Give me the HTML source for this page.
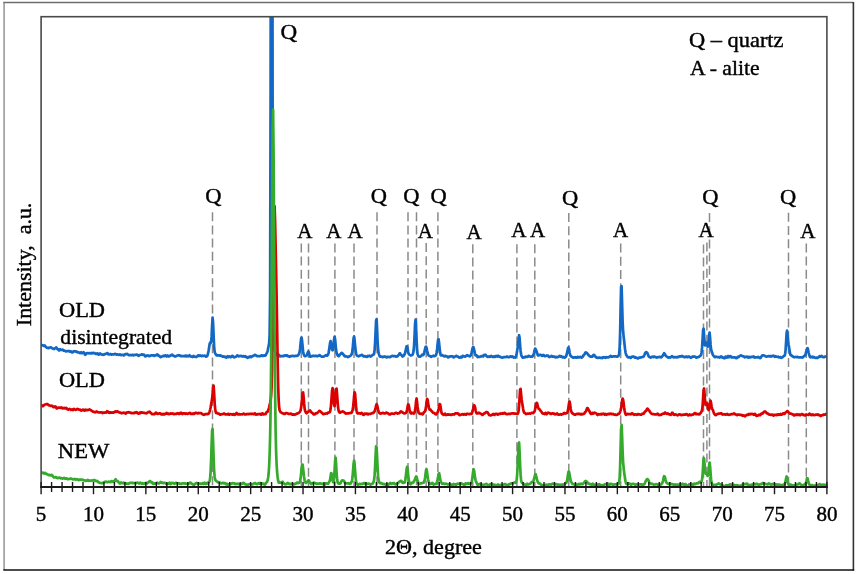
<!DOCTYPE html>
<html><head><meta charset="utf-8"><title>XRD patterns</title>
<style>
html,body{margin:0;padding:0;background:#fff;}
body{width:858px;height:574px;overflow:hidden;font-family:"Liberation Serif",serif;}
svg{display:block;filter:blur(0.35px);}
</style></head><body>
<svg width="858" height="574" viewBox="0 0 858 574">
<rect x="0" y="0" width="858" height="574" fill="#fff"/>
<line x1="4.1" y1="2.5" x2="4.1" y2="570" stroke="#9a9a9a" stroke-width="1.6"/>
<line x1="3.3" y1="2.5" x2="853.4" y2="2.5" stroke="#6e6e6e" stroke-width="1.4"/>
<line x1="853.4" y1="2" x2="853.4" y2="570.6" stroke="#333" stroke-width="1.6"/>
<line x1="3.3" y1="570.0" x2="854.2" y2="570.0" stroke="#111" stroke-width="1.7"/>
<line x1="212.5" y1="212.2" x2="212.5" y2="486" stroke="#8a8a8a" stroke-width="1.5" stroke-dasharray="9 4.2"/>
<line x1="377.0" y1="212.2" x2="377.0" y2="486" stroke="#8a8a8a" stroke-width="1.5" stroke-dasharray="9 4.2"/>
<line x1="408.0" y1="212.2" x2="408.0" y2="486" stroke="#8a8a8a" stroke-width="1.5" stroke-dasharray="9 4.2"/>
<line x1="416.5" y1="212.2" x2="416.5" y2="486" stroke="#8a8a8a" stroke-width="1.5" stroke-dasharray="9 4.2"/>
<line x1="437.9" y1="212.2" x2="437.9" y2="486" stroke="#8a8a8a" stroke-width="1.5" stroke-dasharray="9 4.2"/>
<line x1="568.8" y1="213.0" x2="568.8" y2="486" stroke="#8a8a8a" stroke-width="1.5" stroke-dasharray="9 4.2"/>
<line x1="709.5" y1="213.0" x2="709.5" y2="486" stroke="#8a8a8a" stroke-width="1.5" stroke-dasharray="9 4.2"/>
<line x1="788.5" y1="212.8" x2="788.5" y2="486" stroke="#8a8a8a" stroke-width="1.5" stroke-dasharray="9 4.2"/>
<line x1="301.3" y1="243.4" x2="301.3" y2="486" stroke="#8a8a8a" stroke-width="1.5" stroke-dasharray="9 4.2"/>
<line x1="308.5" y1="243.4" x2="308.5" y2="486" stroke="#8a8a8a" stroke-width="1.5" stroke-dasharray="9 4.2"/>
<line x1="334.9" y1="243.4" x2="334.9" y2="486" stroke="#8a8a8a" stroke-width="1.5" stroke-dasharray="9 4.2"/>
<line x1="354.0" y1="243.4" x2="354.0" y2="486" stroke="#8a8a8a" stroke-width="1.5" stroke-dasharray="9 4.2"/>
<line x1="426.2" y1="243.0" x2="426.2" y2="486" stroke="#8a8a8a" stroke-width="1.5" stroke-dasharray="9 4.2"/>
<line x1="472.8" y1="244.2" x2="472.8" y2="486" stroke="#8a8a8a" stroke-width="1.5" stroke-dasharray="9 4.2"/>
<line x1="516.9" y1="244.2" x2="516.9" y2="486" stroke="#8a8a8a" stroke-width="1.5" stroke-dasharray="9 4.2"/>
<line x1="534.8" y1="244.2" x2="534.8" y2="486" stroke="#8a8a8a" stroke-width="1.5" stroke-dasharray="9 4.2"/>
<line x1="620.7" y1="243.6" x2="620.7" y2="486" stroke="#8a8a8a" stroke-width="1.5" stroke-dasharray="9 4.2"/>
<line x1="703.5" y1="244.4" x2="703.5" y2="486" stroke="#8a8a8a" stroke-width="1.5" stroke-dasharray="9 4.2"/>
<line x1="706.9" y1="242.4" x2="706.9" y2="486" stroke="#8a8a8a" stroke-width="1.5" stroke-dasharray="9 4.2"/>
<line x1="806.3" y1="243.4" x2="806.3" y2="486" stroke="#8a8a8a" stroke-width="1.5" stroke-dasharray="9 4.2"/>
<clipPath id="pc"><rect x="41.1" y="16.7" width="785.8" height="480.3"/></clipPath>
<g clip-path="url(#pc)">
<path d="M41.10,344.98L41.60,345.04L42.10,345.09L42.60,345.25L43.10,345.50L43.60,345.78L44.10,345.55L44.60,345.46L45.10,346.02L45.60,346.77L46.10,347.02L46.60,347.47L47.10,347.73L47.60,347.75L48.10,348.04L48.60,348.09L49.10,347.80L49.60,347.56L50.10,347.47L50.60,347.34L51.10,347.54L51.60,347.85L52.10,348.29L52.60,348.46L53.10,348.52L53.60,348.94L54.10,349.06L54.60,348.60L55.10,348.21L55.60,347.95L56.10,347.41L56.60,347.79L57.10,348.68L57.60,349.18L58.10,349.17L58.60,349.89L59.10,350.51L59.60,350.10L60.10,349.27L60.60,349.64L61.10,349.90L61.60,349.94L62.10,349.70L62.60,349.59L63.10,350.00L63.60,350.65L64.10,350.73L64.60,350.61L65.10,350.92L65.60,351.30L66.10,351.36L66.60,351.20L67.10,351.05L67.60,351.09L68.10,351.24L68.60,351.20L69.10,350.99L69.60,351.24L70.10,351.71L70.60,351.43L71.10,351.35L71.60,351.92L72.10,352.52L72.60,352.44L73.10,351.79L73.60,351.35L74.10,351.27L74.60,351.21L75.10,351.37L75.60,351.57L76.10,351.42L76.60,351.60L77.10,352.07L77.60,352.39L78.10,352.42L78.60,352.45L79.10,352.51L79.60,352.80L80.10,353.12L80.60,352.72L81.10,352.27L81.60,352.93L82.10,353.15L82.60,352.97L83.10,352.74L83.60,352.28L84.10,352.81L84.60,354.04L85.10,354.74L85.60,354.46L86.10,353.58L86.60,353.34L87.10,353.28L87.60,353.09L88.10,353.39L88.60,353.21L89.10,353.11L89.60,353.04L90.10,353.31L90.60,353.50L91.10,353.44L91.60,352.98L92.10,353.14L92.60,353.35L93.10,352.88L93.60,352.99L94.10,353.16L94.60,353.06L95.10,353.33L95.60,353.91L96.10,354.03L96.60,353.83L97.10,353.54L97.60,353.37L98.10,353.93L98.60,354.63L99.10,354.44L99.60,353.64L100.10,353.39L100.60,353.91L101.10,354.36L101.60,354.37L102.10,354.47L102.60,354.74L103.10,354.86L103.60,354.77L104.10,354.56L104.60,354.04L105.10,354.13L105.60,353.98L106.10,353.59L106.60,353.60L107.10,353.01L107.60,353.18L108.10,354.25L108.60,354.38L109.10,354.22L109.60,354.47L110.10,354.37L110.60,353.99L111.10,354.36L111.60,354.68L112.10,354.40L112.60,354.23L113.10,354.26L113.60,354.42L114.10,354.22L114.60,354.00L115.10,353.87L115.60,354.05L116.10,354.49L116.60,354.64L117.10,354.38L117.60,354.27L118.10,354.61L118.60,354.87L119.10,354.87L119.60,354.42L120.10,354.36L120.60,354.84L121.10,355.22L121.60,355.05L122.10,354.88L122.60,354.77L123.10,355.00L123.60,355.34L124.10,355.30L124.60,354.79L125.10,354.11L125.60,354.18L126.10,354.14L126.60,354.11L127.10,353.83L127.60,354.20L128.10,354.64L128.60,355.14L129.10,355.22L129.60,355.19L130.10,355.04L130.60,355.20L131.10,355.06L131.60,355.20L132.10,354.84L132.60,354.81L133.10,355.30L133.60,355.30L134.10,355.09L134.60,354.77L135.10,354.81L135.60,354.82L136.10,354.69L136.60,354.61L137.10,354.49L137.60,355.16L138.10,355.61L138.60,355.90L139.10,355.53L139.60,355.10L140.10,354.98L140.60,355.02L141.10,354.84L141.60,354.39L142.10,354.29L142.60,354.74L143.10,354.87L143.60,354.49L144.10,354.68L144.60,355.39L145.10,356.24L145.60,356.39L146.10,356.12L146.60,355.71L147.10,355.43L147.60,355.71L148.10,355.58L148.60,355.69L149.10,356.07L149.60,355.76L150.10,355.94L150.60,355.69L151.10,355.27L151.60,355.27L152.10,355.24L152.60,355.33L153.10,355.18L153.60,355.37L154.10,355.96L154.60,355.60L155.10,355.43L155.60,355.33L156.10,355.20L156.60,354.79L157.10,354.46L157.60,354.50L158.10,355.54L158.60,355.83L159.10,355.65L159.60,356.12L160.10,356.70L160.60,357.13L161.10,356.75L161.60,356.55L162.10,356.46L162.60,356.26L163.10,355.87L163.60,355.73L164.10,356.03L164.60,356.03L165.10,355.45L165.60,355.38L166.10,356.01L166.60,356.46L167.10,355.91L167.60,355.47L168.10,355.95L168.60,356.31L169.10,356.36L169.60,356.06L170.10,355.88L170.60,355.36L171.10,355.29L171.60,355.03L172.10,354.68L172.60,355.06L173.10,355.76L173.60,355.90L174.10,355.81L174.60,356.20L175.10,356.45L175.60,356.41L176.10,356.20L176.60,355.91L177.10,355.55L177.60,355.51L178.10,355.42L178.60,355.17L179.10,355.25L179.60,355.54L180.10,355.88L180.60,356.07L181.10,355.84L181.60,355.98L182.10,356.23L182.60,356.20L183.10,356.15L183.60,356.10L184.10,356.21L184.60,355.85L185.10,355.69L185.60,356.28L186.10,356.39L186.60,355.68L187.10,355.73L187.60,356.04L188.10,356.30L188.60,356.21L189.10,355.55L189.60,355.26L190.10,355.94L190.60,356.51L191.10,356.59L191.60,356.49L192.10,356.65L192.60,357.00L193.10,356.24L193.60,355.95L194.10,356.51L194.60,356.69L195.10,356.71L195.60,356.79L196.10,357.02L196.60,356.75L197.10,356.19L197.60,355.99L198.10,355.43L198.60,355.37L199.10,355.96L199.60,355.68L200.10,355.28L200.60,355.66L201.10,355.93L201.60,356.16L202.10,356.02L202.60,355.71L203.10,355.76L203.60,355.96L204.10,355.75L204.60,355.72L205.10,355.74L205.60,356.24L206.10,356.66L206.60,356.46L207.10,356.08L207.60,355.04L208.10,353.14L208.60,350.67L209.10,347.49L209.60,344.26L210.10,342.66L210.60,343.10L211.10,342.02L211.60,336.17L212.10,325.48L212.60,317.66L213.10,322.73L213.60,335.34L214.10,346.02L214.60,351.50L215.10,353.16L215.60,353.90L216.10,354.68L216.60,355.34L217.10,355.45L217.60,355.53L218.10,355.29L218.60,355.26L219.10,355.58L219.60,355.74L220.10,355.33L220.60,355.54L221.10,355.93L221.60,356.06L222.10,356.24L222.60,356.56L223.10,356.53L223.60,356.43L224.10,356.65L224.60,356.54L225.10,356.73L225.60,357.38L226.10,357.70L226.60,357.32L227.10,356.67L227.60,356.20L228.10,356.42L228.60,357.02L229.10,356.77L229.60,356.48L230.10,356.97L230.60,357.10L231.10,357.02L231.60,356.47L232.10,355.78L232.60,356.03L233.10,356.55L233.60,357.02L234.10,357.39L234.60,357.10L235.10,356.98L235.60,356.92L236.10,356.62L236.60,356.08L237.10,355.56L237.60,355.40L238.10,356.00L238.60,356.28L239.10,356.24L239.60,356.06L240.10,356.09L240.60,355.91L241.10,355.91L241.60,356.29L242.10,356.47L242.60,356.35L243.10,356.06L243.60,356.10L244.10,356.60L244.60,356.64L245.10,356.21L245.60,356.27L246.10,356.93L246.60,357.27L247.10,357.52L247.60,357.84L248.10,357.09L248.60,356.96L249.10,357.34L249.60,357.17L250.10,356.43L250.60,356.55L251.10,357.10L251.60,356.99L252.10,356.39L252.60,356.04L253.10,355.87L253.60,355.86L254.10,355.36L254.60,354.85L255.10,354.93L255.60,355.21L256.10,355.27L256.60,355.84L257.10,356.18L257.60,356.15L258.10,356.15L258.60,356.24L259.10,356.20L259.60,356.27L260.10,356.25L260.60,356.02L261.10,355.50L261.60,355.31L262.10,355.50L262.60,355.99L263.10,355.98L263.60,355.52L264.10,355.30L264.60,355.48L265.10,355.66L265.60,355.20L266.10,354.41L266.60,353.46L267.10,352.52L267.60,351.08L268.10,348.48L268.60,345.92L269.10,343.32L269.60,336.68L270.10,295.51L270.60,91.99L271.10,-368.26L271.60,-665.84L272.10,-366.74L272.60,95.26L273.10,300.38L273.60,341.17L274.10,347.12L274.60,349.74L275.10,351.53L275.60,352.64L276.10,353.67L276.60,354.83L277.10,355.17L277.60,354.78L278.10,354.42L278.60,354.66L279.10,355.22L279.60,355.95L280.10,356.40L280.60,356.20L281.10,356.17L281.60,356.14L282.10,356.09L282.60,355.97L283.10,356.17L283.60,356.21L284.10,355.75L284.60,355.50L285.10,355.39L285.60,355.39L286.10,355.76L286.60,355.42L287.10,355.41L287.60,355.81L288.10,356.36L288.60,356.21L289.10,356.34L289.60,356.79L290.10,356.42L290.60,356.05L291.10,356.15L291.60,356.11L292.10,355.82L292.60,355.76L293.10,355.85L293.60,356.09L294.10,356.22L294.60,356.14L295.10,355.97L295.60,355.95L296.10,355.86L296.60,355.94L297.10,355.68L297.60,355.44L298.10,355.33L298.60,354.49L299.10,353.52L299.60,351.83L300.10,348.48L300.60,343.48L301.10,338.83L301.60,337.57L302.10,340.98L302.60,346.33L303.10,351.38L303.60,354.02L304.10,355.08L304.60,356.01L305.10,356.25L305.60,356.08L306.10,355.60L306.60,355.48L307.10,354.66L307.60,352.98L308.10,351.66L308.60,351.66L309.10,353.16L309.60,355.24L310.10,356.47L310.60,356.75L311.10,356.40L311.60,356.21L312.10,356.18L312.60,355.92L313.10,355.72L313.60,355.84L314.10,356.07L314.60,356.00L315.10,355.96L315.60,355.91L316.10,355.90L316.60,356.06L317.10,356.31L317.60,356.19L318.10,356.02L318.60,355.66L319.10,355.50L319.60,355.24L320.10,355.58L320.60,356.07L321.10,356.34L321.60,356.57L322.10,356.64L322.60,356.76L323.10,356.73L323.60,356.67L324.10,356.35L324.60,355.91L325.10,355.75L325.60,355.55L326.10,355.22L326.60,355.47L327.10,355.66L327.60,355.19L328.10,354.48L328.60,352.76L329.10,349.70L329.60,346.27L330.10,342.71L330.60,341.01L331.10,343.37L331.60,346.88L332.10,349.74L332.60,350.26L333.10,348.75L333.60,344.39L334.10,338.95L334.60,336.53L335.10,339.18L335.60,344.74L336.10,350.01L336.60,352.94L337.10,354.11L337.60,355.27L338.10,356.02L338.60,356.20L339.10,355.93L339.60,354.88L340.10,354.41L340.60,354.03L341.10,353.48L341.60,352.83L342.10,352.95L342.60,353.76L343.10,354.32L343.60,354.65L344.10,355.55L344.60,356.23L345.10,356.34L345.60,356.05L346.10,356.47L346.60,356.50L347.10,356.58L347.60,357.00L348.10,357.12L348.60,356.65L349.10,356.42L349.60,356.40L350.10,355.89L350.60,355.58L351.10,355.13L351.60,354.27L352.10,352.83L352.60,349.51L353.10,343.69L353.60,338.01L354.10,336.31L354.60,340.10L355.10,345.67L355.60,350.29L356.10,353.53L356.60,355.23L357.10,355.65L357.60,355.89L358.10,356.01L358.60,356.27L359.10,356.02L359.60,355.73L360.10,355.52L360.60,355.48L361.10,355.09L361.60,354.79L362.10,355.06L362.60,355.34L363.10,356.09L363.60,356.37L364.10,356.35L364.60,356.25L365.10,356.01L365.60,356.61L366.10,356.64L366.60,356.89L367.10,356.91L367.60,355.94L368.10,355.79L368.60,356.16L369.10,356.10L369.60,355.70L370.10,356.03L370.60,356.60L371.10,356.36L371.60,356.01L372.10,355.37L372.60,354.88L373.10,354.62L373.60,354.70L374.10,353.72L374.60,349.91L375.10,342.23L375.60,331.00L376.10,320.47L376.60,319.18L377.10,328.95L377.60,341.27L378.10,349.57L378.60,352.98L379.10,354.57L379.60,356.03L380.10,356.60L380.60,356.75L381.10,356.66L381.60,356.61L382.10,356.95L382.60,357.17L383.10,356.95L383.60,356.57L384.10,356.76L384.60,356.64L385.10,356.59L385.60,356.73L386.10,356.97L386.60,357.46L387.10,357.25L387.60,356.93L388.10,356.83L388.60,356.89L389.10,356.92L389.60,357.11L390.10,357.19L390.60,356.85L391.10,356.23L391.60,356.16L392.10,356.13L392.60,355.91L393.10,356.06L393.60,356.05L394.10,356.03L394.60,356.03L395.10,356.10L395.60,356.61L396.10,356.62L396.60,356.28L397.10,356.36L397.60,356.19L398.10,355.49L398.60,355.02L399.10,354.39L399.60,353.31L400.10,353.40L400.60,354.31L401.10,354.86L401.60,355.13L402.10,355.98L402.60,356.56L403.10,356.16L403.60,355.69L404.10,355.17L404.60,354.28L405.10,353.07L405.60,350.91L406.10,348.36L406.60,346.47L407.10,346.43L407.60,348.62L408.10,351.59L408.60,353.75L409.10,354.38L409.60,354.86L410.10,355.12L410.60,355.37L411.10,355.51L411.60,355.32L412.10,355.12L412.60,354.53L413.10,353.34L413.60,350.83L414.10,345.08L414.60,334.93L415.10,323.17L415.60,319.64L416.10,328.56L416.60,340.68L417.10,349.53L417.60,354.10L418.10,355.62L418.60,356.34L419.10,356.65L419.60,356.68L420.10,356.76L420.60,356.26L421.10,355.96L421.60,355.35L422.10,354.71L422.60,355.04L423.10,355.18L423.60,354.65L424.10,353.17L424.60,350.97L425.10,348.65L425.60,346.91L426.10,346.62L426.60,347.98L427.10,350.62L427.60,352.93L428.10,354.48L428.60,355.54L429.10,355.66L429.60,356.05L430.10,356.22L430.60,356.52L431.10,356.77L431.60,356.47L432.10,356.29L432.60,356.27L433.10,355.75L433.60,355.69L434.10,356.19L434.60,356.10L435.10,355.62L435.60,355.60L436.10,354.98L436.60,352.76L437.10,348.97L437.60,344.07L438.10,339.72L438.60,339.20L439.10,343.15L439.60,347.98L440.10,352.37L440.60,355.01L441.10,355.42L441.60,355.36L442.10,355.11L442.60,355.32L443.10,355.63L443.60,355.96L444.10,356.23L444.60,356.44L445.10,355.94L445.60,355.83L446.10,356.09L446.60,356.43L447.10,356.54L447.60,356.65L448.10,357.42L448.60,357.27L449.10,356.79L449.60,356.51L450.10,356.44L450.60,356.27L451.10,356.44L451.60,356.44L452.10,356.40L452.60,356.29L453.10,356.71L453.60,357.35L454.10,357.20L454.60,356.62L455.10,356.39L455.60,356.49L456.10,355.85L456.60,355.84L457.10,356.41L457.60,356.47L458.10,356.79L458.60,357.10L459.10,357.56L459.60,357.62L460.10,357.19L460.60,356.93L461.10,357.27L461.60,357.43L462.10,356.69L462.60,355.82L463.10,356.07L463.60,356.37L464.10,356.44L464.60,356.55L465.10,356.63L465.60,356.26L466.10,356.07L466.60,355.47L467.10,355.22L467.60,355.53L468.10,355.73L468.60,355.76L469.10,355.96L469.60,356.32L470.10,356.25L470.60,355.64L471.10,354.51L471.60,352.59L472.10,350.22L472.60,348.07L473.10,347.04L473.60,347.53L474.10,349.60L474.60,352.17L475.10,354.23L475.60,355.44L476.10,355.45L476.60,355.33L477.10,356.08L477.60,357.07L478.10,357.00L478.60,356.70L479.10,356.81L479.60,356.73L480.10,356.82L480.60,356.42L481.10,356.25L481.60,356.28L482.10,355.95L482.60,356.15L483.10,356.48L483.60,355.83L484.10,354.97L484.60,354.75L485.10,354.73L485.60,354.87L486.10,355.60L486.60,356.29L487.10,356.53L487.60,356.81L488.10,356.82L488.60,356.60L489.10,356.47L489.60,356.80L490.10,356.77L490.60,356.16L491.10,355.93L491.60,356.27L492.10,356.55L492.60,356.85L493.10,356.83L493.60,356.54L494.10,356.44L494.60,356.87L495.10,356.80L495.60,356.28L496.10,355.97L496.60,356.14L497.10,356.69L497.60,356.36L498.10,355.72L498.60,356.12L499.10,356.57L499.60,356.79L500.10,356.85L500.60,356.93L501.10,357.30L501.60,357.48L502.10,357.48L502.60,357.71L503.10,357.40L503.60,357.13L504.10,357.16L504.60,356.98L505.10,357.02L505.60,356.98L506.10,357.06L506.60,356.88L507.10,356.46L507.60,356.88L508.10,357.11L508.60,357.07L509.10,357.17L509.60,356.99L510.10,356.55L510.60,356.41L511.10,356.81L511.60,356.81L512.10,356.40L512.60,356.50L513.10,356.96L513.60,357.53L514.10,357.40L514.60,357.31L515.10,357.59L515.60,356.97L516.10,355.65L516.60,353.74L517.10,351.04L517.60,347.69L518.10,343.56L518.60,338.61L519.10,335.22L519.60,337.98L520.10,345.19L520.60,350.96L521.10,354.27L521.60,355.98L522.10,356.80L522.60,357.68L523.10,357.59L523.60,357.32L524.10,357.41L524.60,357.49L525.10,356.92L525.60,356.60L526.10,356.51L526.60,356.89L527.10,356.92L527.60,356.87L528.10,356.25L528.60,355.80L529.10,356.04L529.60,356.49L530.10,356.52L530.60,356.66L531.10,356.57L531.60,356.47L532.10,356.60L532.60,356.50L533.10,355.38L533.60,354.25L534.10,352.60L534.60,350.17L535.10,348.56L535.60,348.96L536.10,350.17L536.60,351.33L537.10,352.88L537.60,354.64L538.10,355.39L538.60,355.48L539.10,355.32L539.60,354.90L540.10,354.94L540.60,354.91L541.10,355.02L541.60,355.55L542.10,355.90L542.60,355.79L543.10,354.96L543.60,355.04L544.10,355.55L544.60,356.17L545.10,356.26L545.60,355.96L546.10,355.76L546.60,355.60L547.10,355.65L547.60,355.55L548.10,355.58L548.60,356.53L549.10,356.92L549.60,357.06L550.10,356.86L550.60,356.58L551.10,356.31L551.60,355.83L552.10,356.11L552.60,356.75L553.10,356.64L553.60,356.44L554.10,356.67L554.60,356.74L555.10,357.19L555.60,357.47L556.10,356.97L556.60,356.95L557.10,357.25L557.60,357.23L558.10,357.03L558.60,356.65L559.10,356.23L559.60,355.79L560.10,356.22L560.60,356.56L561.10,356.20L561.60,356.41L562.10,357.01L562.60,357.44L563.10,357.38L563.60,356.97L564.10,357.23L564.60,357.71L565.10,357.39L565.60,356.98L566.10,356.20L566.60,354.75L567.10,352.55L567.60,350.33L568.10,348.04L568.60,347.52L569.10,349.39L569.60,352.43L570.10,354.69L570.60,355.87L571.10,356.27L571.60,356.57L572.10,357.11L572.60,357.23L573.10,357.50L573.60,357.76L574.10,357.51L574.60,357.22L575.10,357.15L575.60,357.54L576.10,357.68L576.60,357.76L577.10,357.58L577.60,356.88L578.10,356.97L578.60,357.28L579.10,357.28L579.60,357.28L580.10,357.13L580.60,356.83L581.10,357.23L581.60,357.60L582.10,357.24L582.60,356.79L583.10,356.18L583.60,355.08L584.10,354.68L584.60,354.19L585.10,353.05L585.60,352.42L586.10,352.59L586.60,352.77L587.10,353.22L587.60,353.91L588.10,354.46L588.60,355.29L589.10,355.60L589.60,356.05L590.10,356.57L590.60,356.58L591.10,356.61L591.60,356.78L592.10,356.71L592.60,356.20L593.10,355.32L593.60,354.93L594.10,354.79L594.60,355.67L595.10,356.42L595.60,356.61L596.10,357.22L596.60,357.70L597.10,357.66L597.60,357.77L598.10,357.99L598.60,357.53L599.10,357.56L599.60,357.72L600.10,357.67L600.60,357.89L601.10,357.91L601.60,357.83L602.10,358.02L602.60,357.69L603.10,357.14L603.60,357.25L604.10,357.53L604.60,357.42L605.10,357.39L605.60,357.86L606.10,357.26L606.60,357.03L607.10,357.37L607.60,357.50L608.10,357.52L608.60,357.15L609.10,356.94L609.60,356.75L610.10,356.21L610.60,355.92L611.10,356.25L611.60,356.64L612.10,356.62L612.60,356.65L613.10,356.40L613.60,356.43L614.10,356.43L614.60,356.48L615.10,356.38L615.60,356.31L616.10,356.39L616.60,356.69L617.10,356.58L617.60,356.54L618.10,356.33L618.60,355.61L619.10,354.10L619.60,348.69L620.10,333.57L620.60,308.19L621.10,286.91L621.60,286.19L622.10,303.45L622.60,321.42L623.10,331.20L623.60,336.05L624.10,340.24L624.60,345.08L625.10,349.38L625.60,352.78L626.10,354.74L626.60,355.43L627.10,356.33L627.60,356.96L628.10,357.21L628.60,357.46L629.10,357.46L629.60,357.20L630.10,357.43L630.60,357.80L631.10,357.63L631.60,356.88L632.10,356.58L632.60,356.56L633.10,356.75L633.60,356.66L634.10,356.84L634.60,357.58L635.10,357.79L635.60,357.27L636.10,357.65L636.60,357.72L637.10,358.03L637.60,358.35L638.10,358.43L638.60,357.98L639.10,357.62L639.60,357.72L640.10,357.72L640.60,357.34L641.10,357.31L641.60,357.22L642.10,357.06L642.60,356.93L643.10,356.87L643.60,356.50L644.10,355.64L644.60,354.52L645.10,353.25L645.60,352.46L646.10,352.08L646.60,352.34L647.10,352.66L647.60,353.62L648.10,355.08L648.60,356.27L649.10,356.82L649.60,356.86L650.10,357.34L650.60,357.66L651.10,357.33L651.60,357.08L652.10,356.79L652.60,356.83L653.10,357.03L653.60,356.81L654.10,356.49L654.60,356.61L655.10,357.16L655.60,357.10L656.10,357.02L656.60,357.61L657.10,357.42L657.60,357.20L658.10,357.09L658.60,357.12L659.10,357.13L659.60,356.78L660.10,356.86L660.60,357.10L661.10,357.37L661.60,356.97L662.10,356.42L662.60,355.89L663.10,355.18L663.60,354.09L664.10,353.22L664.60,353.68L665.10,354.48L665.60,355.45L666.10,356.15L666.60,356.47L667.10,356.70L667.60,357.08L668.10,357.55L668.60,357.57L669.10,357.38L669.60,357.48L670.10,357.54L670.60,357.27L671.10,357.06L671.60,356.56L672.10,356.13L672.60,356.59L673.10,357.01L673.60,357.32L674.10,357.34L674.60,357.00L675.10,357.12L675.60,357.18L676.10,357.20L676.60,357.37L677.10,357.21L677.60,356.92L678.10,357.22L678.60,356.96L679.10,356.55L679.60,356.40L680.10,356.31L680.60,356.24L681.10,356.53L681.60,356.30L682.10,355.95L682.60,356.23L683.10,356.44L683.60,356.71L684.10,357.07L684.60,357.04L685.10,357.04L685.60,356.97L686.10,356.46L686.60,356.58L687.10,357.21L687.60,357.24L688.10,356.68L688.60,356.69L689.10,356.69L689.60,356.80L690.10,357.18L690.60,357.54L691.10,357.58L691.60,357.29L692.10,357.00L692.60,356.61L693.10,356.32L693.60,356.63L694.10,356.56L694.60,356.61L695.10,356.82L695.60,356.92L696.10,357.56L696.60,357.60L697.10,357.39L697.60,357.30L698.10,357.15L698.60,357.00L699.10,356.79L699.60,356.30L700.10,356.05L700.60,355.71L701.10,354.74L701.60,352.18L702.10,347.17L702.60,338.73L703.10,330.18L703.60,328.68L704.10,335.25L704.60,342.37L705.10,345.45L705.60,344.81L706.10,342.90L706.60,342.61L707.10,344.36L707.60,346.62L708.10,346.52L708.60,341.93L709.10,334.94L709.60,332.66L710.10,337.88L710.60,344.90L711.10,349.29L711.60,351.22L712.10,352.52L712.60,354.04L713.10,355.37L713.60,355.87L714.10,356.38L714.60,357.08L715.10,357.19L715.60,356.82L716.10,356.64L716.60,356.86L717.10,356.81L717.60,357.16L718.10,357.23L718.60,357.15L719.10,357.32L719.60,357.53L720.10,357.17L720.60,356.61L721.10,356.46L721.60,356.49L722.10,357.20L722.60,357.76L723.10,357.69L723.60,357.51L724.10,358.22L724.60,358.28L725.10,357.36L725.60,356.57L726.10,356.78L726.60,357.48L727.10,357.58L727.60,356.67L728.10,356.04L728.60,356.48L729.10,357.21L729.60,356.83L730.10,356.10L730.60,356.10L731.10,356.95L731.60,357.35L732.10,357.20L732.60,357.27L733.10,357.41L733.60,357.34L734.10,357.25L734.60,357.24L735.10,357.50L735.60,357.97L736.10,358.06L736.60,358.18L737.10,357.86L737.60,356.87L738.10,356.90L738.60,357.02L739.10,356.44L739.60,355.96L740.10,355.80L740.60,355.50L741.10,355.38L741.60,355.63L742.10,355.92L742.60,356.15L743.10,356.37L743.60,356.29L744.10,356.60L744.60,357.32L745.10,356.98L745.60,356.75L746.10,356.82L746.60,356.70L747.10,356.71L747.60,357.33L748.10,357.55L748.60,356.92L749.10,356.96L749.60,357.29L750.10,357.25L750.60,357.33L751.10,357.08L751.60,356.73L752.10,356.75L752.60,356.84L753.10,356.73L753.60,356.37L754.10,357.03L754.60,357.59L755.10,357.46L755.60,357.31L756.10,357.27L756.60,357.46L757.10,357.39L757.60,357.09L758.10,356.91L758.60,356.99L759.10,357.65L759.60,358.00L760.10,358.05L760.60,357.76L761.10,357.21L761.60,356.19L762.10,355.47L762.60,355.34L763.10,355.33L763.60,355.41L764.10,355.47L764.60,355.67L765.10,356.02L765.60,356.34L766.10,356.56L766.60,356.62L767.10,356.50L767.60,356.36L768.10,356.01L768.60,356.00L769.10,356.32L769.60,356.44L770.10,356.12L770.60,356.12L771.10,356.57L771.60,356.31L772.10,355.97L772.60,356.02L773.10,355.86L773.60,355.69L774.10,356.31L774.60,356.79L775.10,356.30L775.60,356.20L776.10,356.65L776.60,356.65L777.10,356.75L777.60,356.96L778.10,356.71L778.60,356.98L779.10,357.41L779.60,357.35L780.10,357.04L780.60,357.32L781.10,357.89L781.60,357.63L782.10,357.40L782.60,357.23L783.10,356.54L783.60,356.21L784.10,355.93L784.60,355.74L785.10,354.01L785.60,349.86L786.10,341.94L786.60,333.04L787.10,330.61L787.60,335.78L788.10,341.28L788.60,344.67L789.10,347.50L789.60,350.61L790.10,353.49L790.60,355.04L791.10,355.30L791.60,355.55L792.10,356.02L792.60,356.37L793.10,356.54L793.60,357.13L794.10,357.15L794.60,357.10L795.10,357.09L795.60,356.81L796.10,356.91L796.60,357.13L797.10,357.11L797.60,356.86L798.10,357.24L798.60,357.36L799.10,357.38L799.60,357.48L800.10,357.28L800.60,357.29L801.10,357.43L801.60,357.34L802.10,357.54L802.60,357.50L803.10,357.02L803.60,356.56L804.10,356.08L804.60,355.82L805.10,355.47L805.60,353.97L806.10,352.23L806.60,350.24L807.10,348.41L807.60,348.16L808.10,349.84L808.60,352.48L809.10,354.42L809.60,356.05L810.10,357.11L810.60,357.36L811.10,357.23L811.60,356.73L812.10,356.71L812.60,357.31L813.10,357.35L813.60,356.99L814.10,357.31L814.60,357.50L815.10,357.69L815.60,357.98L816.10,358.02L816.60,357.53L817.10,357.56L817.60,357.79L818.10,357.52L818.60,357.32L819.10,356.83L819.60,356.23L820.10,356.38L820.60,356.65L821.10,356.26L821.60,355.96L822.10,356.30L822.60,356.79L823.10,357.11L823.60,357.23L824.10,357.11L824.60,356.70L825.10,356.54L825.60,356.48L826.10,356.55L826.60,356.71" fill="none" stroke="#1268c4" stroke-width="2.7" stroke-linejoin="round" stroke-linecap="round"/>
<path d="M41.10,405.84L41.60,405.17L42.10,405.72L42.60,406.25L43.10,406.02L43.60,405.47L44.10,405.08L44.60,404.74L45.10,404.55L45.60,404.45L46.10,404.30L46.60,404.16L47.10,404.06L47.60,404.29L48.10,404.76L48.60,405.13L49.10,405.18L49.60,405.39L50.10,405.67L50.60,406.00L51.10,405.85L51.60,405.67L52.10,405.78L52.60,406.17L53.10,406.75L53.60,407.26L54.10,407.14L54.60,406.75L55.10,406.40L55.60,406.58L56.10,407.31L56.60,408.35L57.10,408.50L57.60,408.09L58.10,407.49L58.60,407.50L59.10,407.71L59.60,407.71L60.10,407.60L60.60,407.94L61.10,407.81L61.60,407.45L62.10,407.87L62.60,408.46L63.10,408.52L63.60,408.16L64.10,407.79L64.60,408.21L65.10,408.41L65.60,408.24L66.10,407.92L66.60,408.19L67.10,409.00L67.60,409.33L68.10,409.56L68.60,409.61L69.10,409.17L69.60,408.94L70.10,409.14L70.60,409.79L71.10,409.78L71.60,409.47L72.10,409.37L72.60,409.75L73.10,410.05L73.60,409.28L74.10,408.86L74.60,409.34L75.10,409.65L75.60,409.94L76.10,409.76L76.60,409.41L77.10,408.93L77.60,409.03L78.10,409.25L78.60,409.49L79.10,409.66L79.60,409.58L80.10,409.69L80.60,410.20L81.10,410.53L81.60,410.64L82.10,410.11L82.60,409.70L83.10,409.54L83.60,409.86L84.10,410.43L84.60,410.65L85.10,410.01L85.60,409.72L86.10,410.01L86.60,410.19L87.10,410.22L87.60,409.95L88.10,409.78L88.60,409.80L89.10,409.72L89.60,409.44L90.10,409.71L90.60,409.91L91.10,410.45L91.60,410.67L92.10,410.95L92.60,411.18L93.10,411.64L93.60,411.80L94.10,411.76L94.60,412.27L95.10,412.29L95.60,412.07L96.10,411.94L96.60,411.45L97.10,411.65L97.60,412.21L98.10,412.26L98.60,412.35L99.10,412.34L99.60,412.45L100.10,412.52L100.60,412.43L101.10,412.27L101.60,412.24L102.10,412.74L102.60,413.08L103.10,412.66L103.60,412.55L104.10,412.50L104.60,412.53L105.10,412.49L105.60,412.27L106.10,412.53L106.60,411.94L107.10,411.22L107.60,411.28L108.10,412.04L108.60,412.63L109.10,412.42L109.60,412.43L110.10,412.76L110.60,412.26L111.10,412.32L111.60,412.64L112.10,412.67L112.60,412.44L113.10,412.27L113.60,412.57L114.10,412.42L114.60,412.07L115.10,411.44L115.60,411.30L116.10,411.91L116.60,411.78L117.10,411.46L117.60,411.46L118.10,411.77L118.60,412.15L119.10,412.38L119.60,412.56L120.10,412.57L120.60,412.57L121.10,413.05L121.60,413.27L122.10,413.03L122.60,413.00L123.10,412.95L123.60,412.69L124.10,412.78L124.60,412.90L125.10,413.35L125.60,413.61L126.10,412.92L126.60,412.43L127.10,412.57L127.60,412.49L128.10,412.26L128.60,412.21L129.10,412.36L129.60,412.56L130.10,412.52L130.60,412.66L131.10,412.98L131.60,413.18L132.10,413.13L132.60,413.24L133.10,413.26L133.60,412.96L134.10,413.12L134.60,412.94L135.10,412.41L135.60,412.51L136.10,412.63L136.60,412.13L137.10,412.49L137.60,413.35L138.10,413.56L138.60,413.70L139.10,413.48L139.60,412.72L140.10,412.68L140.60,413.00L141.10,412.38L141.60,412.30L142.10,412.59L142.60,412.44L143.10,412.57L143.60,412.86L144.10,412.88L144.60,412.85L145.10,413.12L145.60,413.28L146.10,413.36L146.60,413.28L147.10,412.86L147.60,412.49L148.10,412.31L148.60,411.96L149.10,411.86L149.60,411.59L150.10,412.18L150.60,413.03L151.10,413.19L151.60,413.56L152.10,414.25L152.60,414.20L153.10,414.00L153.60,413.98L154.10,414.26L154.60,414.16L155.10,413.45L155.60,412.83L156.10,412.56L156.60,413.14L157.10,413.74L157.60,413.97L158.10,413.70L158.60,413.68L159.10,413.51L159.60,413.30L160.10,413.33L160.60,413.78L161.10,414.33L161.60,414.20L162.10,413.97L162.60,414.45L163.10,414.42L163.60,413.94L164.10,413.94L164.60,414.35L165.10,414.12L165.60,413.80L166.10,413.54L166.60,413.00L167.10,413.33L167.60,413.80L168.10,413.58L168.60,413.77L169.10,414.15L169.60,414.05L170.10,413.69L170.60,413.43L171.10,413.50L171.60,413.70L172.10,413.78L172.60,413.40L173.10,413.49L173.60,413.92L174.10,414.21L174.60,414.06L175.10,413.93L175.60,413.81L176.10,413.77L176.60,413.97L177.10,413.37L177.60,413.22L178.10,413.35L178.60,413.71L179.10,413.99L179.60,413.91L180.10,413.29L180.60,412.75L181.10,412.71L181.60,413.20L182.10,413.72L182.60,414.01L183.10,413.56L183.60,413.26L184.10,413.33L184.60,413.30L185.10,413.81L185.60,413.85L186.10,413.61L186.60,413.42L187.10,413.68L187.60,413.90L188.10,413.71L188.60,413.41L189.10,413.14L189.60,412.87L190.10,413.06L190.60,413.86L191.10,413.92L191.60,413.68L192.10,413.83L192.60,413.79L193.10,413.47L193.60,413.48L194.10,413.88L194.60,413.54L195.10,412.94L195.60,412.75L196.10,412.84L196.60,413.05L197.10,413.18L197.60,413.42L198.10,413.17L198.60,412.97L199.10,413.14L199.60,413.12L200.10,413.16L200.60,413.17L201.10,413.15L201.60,413.55L202.10,414.05L202.60,414.29L203.10,414.46L203.60,414.70L204.10,414.81L204.60,414.58L205.10,414.08L205.60,414.10L206.10,414.07L206.60,414.07L207.10,414.21L207.60,413.75L208.10,413.72L208.60,413.80L209.10,412.98L209.60,411.61L210.10,409.78L210.60,407.47L211.10,404.35L211.60,401.62L212.10,398.77L212.60,393.93L213.10,387.45L213.60,385.64L214.10,392.63L214.60,402.29L215.10,408.35L215.60,411.66L216.10,412.96L216.60,412.64L217.10,412.92L217.60,413.52L218.10,413.56L218.60,413.58L219.10,413.76L219.60,414.21L220.10,414.63L220.60,414.68L221.10,414.35L221.60,414.20L222.10,414.15L222.60,414.09L223.10,414.01L223.60,413.83L224.10,413.46L224.60,413.89L225.10,414.31L225.60,414.37L226.10,414.28L226.60,414.45L227.10,414.45L227.60,414.19L228.10,413.74L228.60,413.79L229.10,414.57L229.60,414.66L230.10,414.41L230.60,414.09L231.10,414.27L231.60,414.34L232.10,414.53L232.60,414.71L233.10,414.08L233.60,414.07L234.10,414.52L234.60,414.94L235.10,414.60L235.60,414.05L236.10,413.44L236.60,412.96L237.10,413.79L237.60,414.35L238.10,414.40L238.60,413.99L239.10,414.02L239.60,414.33L240.10,414.36L240.60,414.28L241.10,414.33L241.60,414.25L242.10,414.25L242.60,414.33L243.10,413.83L243.60,413.56L244.10,413.70L244.60,414.30L245.10,414.34L245.60,414.47L246.10,414.45L246.60,414.11L247.10,413.94L247.60,414.07L248.10,414.07L248.60,413.93L249.10,414.09L249.60,413.83L250.10,413.86L250.60,413.96L251.10,413.94L251.60,414.05L252.10,413.87L252.60,413.95L253.10,413.96L253.60,414.11L254.10,414.07L254.60,413.41L255.10,413.37L255.60,414.20L256.10,414.58L256.60,414.46L257.10,414.34L257.60,414.31L258.10,413.98L258.60,414.08L259.10,414.24L259.60,414.20L260.10,413.97L260.60,414.51L261.10,414.63L261.60,413.90L262.10,413.44L262.60,413.44L263.10,414.37L263.60,414.46L264.10,414.12L264.60,414.08L265.10,414.20L265.60,414.06L266.10,413.10L266.60,412.14L267.10,411.64L267.60,411.68L268.10,410.86L268.60,409.09L269.10,407.36L269.60,405.11L270.10,403.10L270.60,400.35L271.10,396.13L271.60,387.43L272.10,368.50L272.60,334.77L273.10,288.34L273.60,241.20L274.10,210.43L274.60,206.15L275.10,221.93L275.60,245.20L276.10,269.32L276.60,295.74L277.10,326.46L277.60,357.91L278.10,383.12L278.60,398.93L279.10,407.07L279.60,410.32L280.10,411.49L280.60,412.04L281.10,412.34L281.60,412.85L282.10,413.16L282.60,413.12L283.10,413.45L283.60,413.79L284.10,413.94L284.60,414.01L285.10,413.74L285.60,413.05L286.10,413.07L286.60,413.15L287.10,413.15L287.60,413.33L288.10,413.70L288.60,413.88L289.10,413.83L289.60,413.82L290.10,413.88L290.60,413.55L291.10,413.57L291.60,414.31L292.10,414.57L292.60,414.71L293.10,414.61L293.60,414.27L294.10,414.50L294.60,414.80L295.10,414.61L295.60,414.16L296.10,414.14L296.60,413.83L297.10,413.58L297.60,413.44L298.10,413.03L298.60,413.17L299.10,412.66L299.60,412.16L300.10,411.51L300.60,410.18L301.10,407.63L301.60,403.82L302.10,398.00L302.60,393.02L303.10,392.40L303.60,396.82L304.10,403.46L304.60,408.28L305.10,410.89L305.60,412.05L306.10,412.90L306.60,413.27L307.10,412.81L307.60,412.34L308.10,411.82L308.60,411.39L309.10,411.05L309.60,410.63L310.10,410.47L310.60,411.23L311.10,412.15L311.60,412.43L312.10,412.79L312.60,413.12L313.10,413.85L313.60,414.41L314.10,414.39L314.60,414.47L315.10,413.79L315.60,413.43L316.10,413.38L316.60,413.43L317.10,413.04L317.60,412.63L318.10,412.16L318.60,411.63L319.10,411.05L319.60,410.84L320.10,411.09L320.60,411.60L321.10,412.13L321.60,412.57L322.10,412.87L322.60,413.57L323.10,414.08L323.60,414.08L324.10,413.89L324.60,413.88L325.10,413.64L325.60,413.59L326.10,413.38L326.60,413.40L327.10,413.57L327.60,412.95L328.10,412.53L328.60,412.51L329.10,412.54L329.60,412.16L330.10,411.41L330.60,409.04L331.10,404.07L331.60,397.24L332.10,390.46L332.60,388.08L333.10,392.96L333.60,400.18L334.10,404.97L334.60,406.10L335.10,402.50L335.60,395.62L336.10,389.35L336.60,388.63L337.10,394.42L337.60,401.78L338.10,407.56L338.60,410.75L339.10,412.15L339.60,412.55L340.10,412.62L340.60,411.99L341.10,411.78L341.60,411.95L342.10,411.79L342.60,411.40L343.10,411.69L343.60,411.80L344.10,412.10L344.60,412.43L345.10,413.03L345.60,413.50L346.10,413.64L346.60,413.46L347.10,413.34L347.60,413.46L348.10,413.47L348.60,413.35L349.10,413.05L349.60,413.06L350.10,413.10L350.60,412.79L351.10,412.90L351.60,412.75L352.10,411.68L352.60,409.71L353.10,407.00L353.60,402.13L354.10,396.05L354.60,392.26L355.10,393.93L355.60,400.49L356.10,407.11L356.60,411.02L357.10,412.94L357.60,413.34L358.10,413.01L358.60,413.22L359.10,413.33L359.60,413.31L360.10,413.23L360.60,413.58L361.10,413.24L361.60,412.90L362.10,413.14L362.60,413.94L363.10,414.71L363.60,414.88L364.10,414.45L364.60,413.62L365.10,413.65L365.60,413.94L366.10,414.05L366.60,413.82L367.10,413.54L367.60,413.95L368.10,414.42L368.60,413.99L369.10,413.78L369.60,413.92L370.10,413.85L370.60,413.84L371.10,413.53L371.60,413.43L372.10,413.27L372.60,412.90L373.10,413.10L373.60,412.79L374.10,412.09L374.60,411.33L375.10,409.60L375.60,407.76L376.10,405.49L376.60,404.20L377.10,405.08L377.60,407.26L378.10,409.77L378.60,411.43L379.10,412.54L379.60,413.29L380.10,413.50L380.60,413.55L381.10,413.49L381.60,413.22L382.10,413.16L382.60,412.85L383.10,412.90L383.60,413.20L384.10,413.49L384.60,413.44L385.10,413.48L385.60,413.18L386.10,412.60L386.60,412.56L387.10,412.93L387.60,413.22L388.10,413.31L388.60,413.73L389.10,414.18L389.60,414.39L390.10,414.40L390.60,414.23L391.10,413.65L391.60,413.52L392.10,413.56L392.60,413.57L393.10,413.71L393.60,413.76L394.10,413.85L394.60,413.59L395.10,413.12L395.60,412.84L396.10,412.86L396.60,413.03L397.10,413.25L397.60,413.57L398.10,413.31L398.60,413.20L399.10,413.21L399.60,412.83L400.10,412.27L400.60,411.56L401.10,411.43L401.60,411.73L402.10,411.94L402.60,412.45L403.10,412.73L403.60,413.05L404.10,413.41L404.60,413.46L405.10,413.03L405.60,413.03L406.10,412.81L406.60,411.65L407.10,409.54L407.60,406.64L408.10,404.48L408.60,404.64L409.10,407.23L409.60,409.78L410.10,411.77L410.60,413.02L411.10,413.52L411.60,413.00L412.10,412.79L412.60,413.00L413.10,413.34L413.60,413.60L414.10,413.42L414.60,412.18L415.10,410.10L415.60,406.34L416.10,401.00L416.60,398.53L417.10,402.10L417.60,406.98L418.10,410.58L418.60,412.60L419.10,413.32L419.60,413.72L420.10,413.83L420.60,413.74L421.10,413.55L421.60,413.74L422.10,413.94L422.60,414.40L423.10,414.02L423.60,412.73L424.10,411.99L424.60,411.86L425.10,411.33L425.60,409.39L426.10,405.94L426.60,401.75L427.10,398.94L427.60,399.63L428.10,402.90L428.60,406.14L429.10,408.62L429.60,409.53L430.10,409.38L430.60,409.66L431.10,410.51L431.60,411.10L432.10,411.49L432.60,412.36L433.10,412.84L433.60,412.86L434.10,413.07L434.60,413.28L435.10,413.70L435.60,414.23L436.10,414.40L436.60,413.68L437.10,413.03L437.60,412.27L438.10,411.13L438.60,408.95L439.10,406.33L439.60,404.06L440.10,404.26L440.60,406.98L441.10,410.26L441.60,413.03L442.10,413.89L442.60,414.08L443.10,414.53L443.60,414.92L444.10,414.49L444.60,413.93L445.10,413.64L445.60,414.24L446.10,415.10L446.60,414.87L447.10,414.60L447.60,414.55L448.10,414.28L448.60,414.47L449.10,414.72L449.60,414.71L450.10,414.48L450.60,414.53L451.10,415.00L451.60,414.86L452.10,414.34L452.60,414.45L453.10,414.40L453.60,414.40L454.10,414.57L454.60,414.01L455.10,413.49L455.60,413.31L456.10,413.27L456.60,413.44L457.10,413.25L457.60,413.58L458.10,413.47L458.60,413.85L459.10,414.78L459.60,415.15L460.10,415.03L460.60,414.96L461.10,414.65L461.60,414.55L462.10,414.39L462.60,414.00L463.10,414.20L463.60,414.64L464.10,414.42L464.60,414.00L465.10,414.07L465.60,414.67L466.10,414.67L466.60,414.01L467.10,413.75L467.60,413.95L468.10,413.97L468.60,413.99L469.10,414.09L469.60,414.10L470.10,413.82L470.60,413.70L471.10,413.90L471.60,413.86L472.10,412.72L472.60,410.99L473.10,409.02L473.60,406.63L474.10,405.30L474.60,405.78L475.10,407.40L475.60,410.20L476.10,412.47L476.60,413.43L477.10,412.94L477.60,412.98L478.10,413.39L478.60,412.90L479.10,412.80L479.60,413.01L480.10,413.35L480.60,413.81L481.10,413.97L481.60,414.15L482.10,414.74L482.60,414.98L483.10,414.24L483.60,413.90L484.10,413.47L484.60,413.12L485.10,413.09L485.60,412.79L486.10,412.06L486.60,412.15L487.10,412.12L487.60,412.40L488.10,413.04L488.60,414.19L489.10,415.05L489.60,415.24L490.10,415.27L490.60,415.41L491.10,415.29L491.60,414.93L492.10,414.91L492.60,414.65L493.10,413.96L493.60,414.32L494.10,414.71L494.60,414.87L495.10,414.23L495.60,413.76L496.10,413.89L496.60,413.80L497.10,414.04L497.60,414.66L498.10,414.53L498.60,414.02L499.10,413.88L499.60,413.94L500.10,413.95L500.60,413.46L501.10,413.69L501.60,413.64L502.10,413.35L502.60,413.21L503.10,413.60L503.60,413.63L504.10,413.02L504.60,412.80L505.10,413.22L505.60,413.54L506.10,413.98L506.60,414.10L507.10,414.15L507.60,414.10L508.10,414.03L508.60,413.84L509.10,413.77L509.60,413.76L510.10,413.99L510.60,413.74L511.10,413.53L511.60,413.46L512.10,413.54L512.60,413.41L513.10,413.36L513.60,413.35L514.10,413.58L514.60,413.62L515.10,413.51L515.60,413.53L516.10,413.63L516.60,413.76L517.10,413.88L517.60,413.91L518.10,413.24L518.60,410.97L519.10,405.65L519.60,397.40L520.10,389.51L520.60,388.87L521.10,394.05L521.60,399.21L522.10,402.58L522.60,405.53L523.10,408.72L523.60,411.22L524.10,412.52L524.60,412.82L525.10,413.11L525.60,413.78L526.10,414.05L526.60,413.92L527.10,413.71L527.60,413.59L528.10,413.50L528.60,413.59L529.10,413.60L529.60,413.41L530.10,413.59L530.60,413.62L531.10,413.12L531.60,412.86L532.10,412.82L532.60,412.85L533.10,413.19L533.60,412.70L534.10,412.03L534.60,411.42L535.10,409.32L535.60,406.87L536.10,404.52L536.60,402.79L537.10,403.25L537.60,405.38L538.10,407.54L538.60,408.62L539.10,408.97L539.60,409.38L540.10,410.04L540.60,410.89L541.10,411.41L541.60,412.01L542.10,412.87L542.60,413.52L543.10,413.53L543.60,413.63L544.10,413.84L544.60,414.08L545.10,413.25L545.60,412.94L546.10,413.87L546.60,414.22L547.10,413.54L547.60,412.95L548.10,412.67L548.60,412.87L549.10,412.96L549.60,413.09L550.10,413.45L550.60,414.00L551.10,413.96L551.60,413.72L552.10,413.40L552.60,413.37L553.10,413.68L553.60,413.47L554.10,413.62L554.60,414.30L555.10,414.17L555.60,414.30L556.10,414.23L556.60,413.80L557.10,413.43L557.60,413.91L558.10,414.55L558.60,414.66L559.10,414.72L559.60,414.51L560.10,414.35L560.60,414.16L561.10,414.68L561.60,414.46L562.10,414.16L562.60,414.13L563.10,413.95L563.60,413.55L564.10,413.01L564.60,413.33L565.10,413.61L565.60,413.39L566.10,413.21L566.60,413.11L567.10,412.81L567.60,411.74L568.10,409.67L568.60,406.15L569.10,402.57L569.60,401.58L570.10,404.18L570.60,408.20L571.10,410.88L571.60,412.33L572.10,413.07L572.60,413.44L573.10,413.63L573.60,414.12L574.10,414.46L574.60,414.64L575.10,414.80L575.60,414.63L576.10,414.09L576.60,413.98L577.10,413.86L577.60,414.05L578.10,413.84L578.60,413.72L579.10,414.04L579.60,413.93L580.10,414.08L580.60,414.40L581.10,413.94L581.60,414.03L582.10,414.33L582.60,414.19L583.10,413.98L583.60,413.94L584.10,413.79L584.60,413.10L585.10,412.12L585.60,411.78L586.10,411.08L586.60,409.51L587.10,408.29L587.60,408.03L588.10,408.82L588.60,409.92L589.10,410.69L589.60,411.40L590.10,412.65L590.60,413.58L591.10,413.99L591.60,413.68L592.10,412.94L592.60,412.96L593.10,413.72L593.60,413.33L594.10,412.77L594.60,412.66L595.10,412.84L595.60,413.11L596.10,413.39L596.60,413.68L597.10,414.54L597.60,414.97L598.10,414.51L598.60,414.17L599.10,414.25L599.60,414.46L600.10,414.50L600.60,414.11L601.10,413.96L601.60,414.29L602.10,414.23L602.60,413.92L603.10,413.69L603.60,413.67L604.10,414.01L604.60,414.56L605.10,414.19L605.60,413.96L606.10,414.49L606.60,414.77L607.10,414.37L607.60,414.09L608.10,413.81L608.60,414.10L609.10,414.24L609.60,414.00L610.10,413.61L610.60,413.79L611.10,414.00L611.60,413.95L612.10,414.14L612.60,414.05L613.10,413.94L613.60,414.26L614.10,414.54L614.60,414.58L615.10,414.47L615.60,414.67L616.10,414.91L616.60,414.90L617.10,414.54L617.60,414.55L618.10,413.98L618.60,413.63L619.10,413.67L619.60,413.18L620.10,411.70L620.60,410.36L621.10,408.33L621.60,404.94L622.10,400.86L622.60,398.67L623.10,399.65L623.60,403.06L624.10,407.43L624.60,410.58L625.10,412.77L625.60,414.29L626.10,414.84L626.60,414.57L627.10,414.36L627.60,413.90L628.10,413.95L628.60,414.25L629.10,414.08L629.60,414.01L630.10,414.08L630.60,414.30L631.10,414.14L631.60,413.43L632.10,413.27L632.60,413.46L633.10,414.14L633.60,414.44L634.10,414.79L634.60,414.58L635.10,414.25L635.60,414.40L636.10,414.60L636.60,414.87L637.10,414.66L637.60,414.16L638.10,413.98L638.60,414.24L639.10,414.48L639.60,414.36L640.10,414.55L640.60,414.69L641.10,414.72L641.60,414.42L642.10,414.04L642.60,413.56L643.10,413.62L643.60,413.79L644.10,413.02L644.60,412.22L645.10,411.56L645.60,411.15L646.10,410.85L646.60,409.81L647.10,408.75L647.60,408.63L648.10,409.28L648.60,409.89L649.10,410.65L649.60,411.22L650.10,412.03L650.60,412.82L651.10,413.24L651.60,413.70L652.10,413.87L652.60,414.12L653.10,414.09L653.60,414.13L654.10,414.29L654.60,414.26L655.10,414.28L655.60,414.37L656.10,414.36L656.60,414.30L657.10,413.98L657.60,413.73L658.10,413.94L658.60,414.78L659.10,415.18L659.60,414.91L660.10,414.80L660.60,414.91L661.10,414.86L661.60,414.26L662.10,414.08L662.60,413.99L663.10,413.55L663.60,413.66L664.10,413.64L664.60,412.98L665.10,412.53L665.60,413.15L666.10,413.63L666.60,413.84L667.10,413.79L667.60,413.35L668.10,413.49L668.60,414.14L669.10,414.29L669.60,414.28L670.10,414.66L670.60,414.98L671.10,414.54L671.60,413.39L672.10,412.65L672.60,412.84L673.10,413.81L673.60,414.65L674.10,414.80L674.60,414.43L675.10,414.48L675.60,414.43L676.10,414.71L676.60,414.92L677.10,415.05L677.60,415.30L678.10,415.12L678.60,414.59L679.10,414.26L679.60,414.24L680.10,414.50L680.60,414.89L681.10,415.05L681.60,415.17L682.10,414.90L682.60,414.84L683.10,414.79L683.60,414.51L684.10,414.49L684.60,414.55L685.10,414.62L685.60,414.71L686.10,414.14L686.60,414.04L687.10,414.36L687.60,414.84L688.10,415.45L688.60,415.24L689.10,414.79L689.60,414.49L690.10,414.79L690.60,414.93L691.10,415.18L691.60,414.92L692.10,414.59L692.60,414.60L693.10,414.56L693.60,414.31L694.10,413.63L694.60,413.05L695.10,413.00L695.60,413.40L696.10,414.22L696.60,414.01L697.10,413.95L697.60,414.11L698.10,413.98L698.60,414.25L699.10,414.50L699.60,414.14L700.10,413.46L700.60,413.00L701.10,412.25L701.60,411.35L702.10,409.87L702.60,405.84L703.10,397.95L703.60,389.87L704.10,388.43L704.60,394.45L705.10,401.51L705.60,404.98L706.10,404.98L706.60,403.41L707.10,403.41L707.60,405.90L708.10,408.62L708.60,410.00L709.10,409.51L709.60,406.51L710.10,402.35L710.60,400.68L711.10,403.08L711.60,406.53L712.10,408.64L712.60,409.55L713.10,410.66L713.60,412.21L714.10,413.52L714.60,414.30L715.10,414.80L715.60,415.09L716.10,415.02L716.60,414.69L717.10,414.09L717.60,413.95L718.10,414.00L718.60,413.78L719.10,413.49L719.60,413.64L720.10,413.42L720.60,413.27L721.10,413.44L721.60,413.46L722.10,414.17L722.60,414.62L723.10,414.41L723.60,414.35L724.10,414.45L724.60,414.26L725.10,414.22L725.60,414.60L726.10,414.59L726.60,414.37L727.10,413.87L727.60,414.21L728.10,414.62L728.60,414.75L729.10,414.83L729.60,414.71L730.10,414.48L730.60,414.42L731.10,414.19L731.60,414.18L732.10,414.23L732.60,414.13L733.10,413.94L733.60,413.53L734.10,413.44L734.60,413.67L735.10,414.18L735.60,414.43L736.10,414.56L736.60,414.97L737.10,415.06L737.60,414.70L738.10,414.75L738.60,414.63L739.10,414.66L739.60,414.88L740.10,414.94L740.60,414.90L741.10,414.78L741.60,415.14L742.10,415.51L742.60,415.17L743.10,415.49L743.60,415.62L744.10,415.58L744.60,416.18L745.10,416.29L745.60,415.53L746.10,415.39L746.60,415.28L747.10,414.65L747.60,414.67L748.10,414.97L748.60,414.59L749.10,413.94L749.60,414.08L750.10,414.32L750.60,413.95L751.10,413.84L751.60,414.00L752.10,414.13L752.60,413.97L753.10,414.15L753.60,414.80L754.10,414.70L754.60,413.95L755.10,413.97L755.60,414.62L756.10,415.55L756.60,415.83L757.10,415.80L757.60,415.60L758.10,415.48L758.60,415.03L759.10,414.69L759.60,415.16L760.10,415.26L760.60,414.70L761.10,413.97L761.60,413.47L762.10,413.30L762.60,413.60L763.10,413.14L763.60,412.13L764.10,411.67L764.60,411.51L765.10,411.51L765.60,411.76L766.10,412.48L766.60,413.08L767.10,413.45L767.60,413.44L768.10,413.69L768.60,414.17L769.10,414.47L769.60,414.70L770.10,414.67L770.60,414.73L771.10,414.96L771.60,414.70L772.10,414.72L772.60,414.68L773.10,414.97L773.60,415.58L774.10,415.31L774.60,414.87L775.10,414.84L775.60,414.89L776.10,415.10L776.60,414.72L777.10,414.53L777.60,414.92L778.10,414.54L778.60,414.26L779.10,414.53L779.60,414.78L780.10,414.70L780.60,414.03L781.10,414.44L781.60,414.71L782.10,414.38L782.60,413.65L783.10,413.40L783.60,413.33L784.10,413.99L784.60,413.97L785.10,413.03L785.60,412.61L786.10,412.11L786.60,411.74L787.10,411.18L787.60,411.21L788.10,412.01L788.60,412.37L789.10,412.69L789.60,413.37L790.10,413.76L790.60,413.58L791.10,413.50L791.60,413.85L792.10,414.33L792.60,414.28L793.10,414.26L793.60,415.12L794.10,415.51L794.60,415.10L795.10,414.63L795.60,414.67L796.10,415.05L796.60,414.91L797.10,414.29L797.60,414.72L798.10,414.96L798.60,414.71L799.10,414.45L799.60,414.80L800.10,415.25L800.60,414.83L801.10,414.61L801.60,414.13L802.10,414.03L802.60,414.24L803.10,414.86L803.60,414.75L804.10,414.95L804.60,415.49L805.10,415.50L805.60,414.95L806.10,414.44L806.60,414.66L807.10,414.75L807.60,414.77L808.10,414.81L808.60,414.84L809.10,414.06L809.60,413.68L810.10,414.37L810.60,414.68L811.10,414.68L811.60,415.16L812.10,415.02L812.60,414.44L813.10,414.63L813.60,415.01L814.10,415.16L814.60,414.99L815.10,414.88L815.60,414.82L816.10,414.66L816.60,414.57L817.10,414.81L817.60,414.82L818.10,414.41L818.60,414.84L819.10,415.24L819.60,415.17L820.10,415.51L820.60,416.05L821.10,415.82L821.60,415.37L822.10,415.31L822.60,415.27L823.10,414.70L823.60,414.52L824.10,414.53L824.60,414.77L825.10,414.60L825.60,414.32L826.10,413.95L826.60,414.08" fill="none" stroke="#dd0000" stroke-width="2.7" stroke-linejoin="round" stroke-linecap="round"/>
<path d="M41.10,472.72L41.60,473.06L42.10,473.01L42.60,472.52L43.10,472.80L43.60,473.36L44.10,473.54L44.60,473.22L45.10,472.92L45.60,473.29L46.10,473.90L46.60,474.02L47.10,474.27L47.60,474.58L48.10,474.81L48.60,475.08L49.10,474.96L49.60,474.84L50.10,475.41L50.60,475.45L51.10,475.00L51.60,474.85L52.10,475.23L52.60,475.82L53.10,476.54L53.60,477.21L54.10,477.38L54.60,477.38L55.10,477.32L55.60,477.02L56.10,477.05L56.60,477.44L57.10,478.01L57.60,478.08L58.10,478.04L58.60,477.90L59.10,477.53L59.60,477.52L60.10,477.89L60.60,478.35L61.10,478.27L61.60,478.17L62.10,478.34L62.60,478.68L63.10,478.34L63.60,478.02L64.10,477.95L64.60,478.27L65.10,478.65L65.60,478.79L66.10,478.68L66.60,478.43L67.10,478.79L67.60,479.23L68.10,479.15L68.60,478.99L69.10,478.92L69.60,478.93L70.10,478.70L70.60,478.69L71.10,478.61L71.60,478.59L72.10,479.10L72.60,479.28L73.10,479.49L73.60,479.35L74.10,478.94L74.60,478.98L75.10,479.09L75.60,479.59L76.10,479.59L76.60,479.41L77.10,479.10L77.60,479.34L78.10,479.86L78.60,480.15L79.10,479.87L79.60,479.71L80.10,479.78L80.60,479.54L81.10,479.50L81.60,479.82L82.10,479.90L82.60,479.65L83.10,479.90L83.60,480.41L84.10,480.44L84.60,480.29L85.10,480.52L85.60,480.90L86.10,481.00L86.60,480.66L87.10,480.58L87.60,479.90L88.10,480.08L88.60,480.82L89.10,480.71L89.60,480.49L90.10,480.59L90.60,480.83L91.10,480.76L91.60,480.61L92.10,480.35L92.60,480.68L93.10,480.53L93.60,480.18L94.10,479.96L94.60,480.04L95.10,480.88L95.60,480.99L96.10,480.95L96.60,481.20L97.10,480.91L97.60,481.28L98.10,482.06L98.60,482.14L99.10,482.52L99.60,482.86L100.10,482.90L100.60,483.01L101.10,483.07L101.60,483.27L102.10,483.30L102.60,483.05L103.10,482.88L103.60,482.30L104.10,482.29L104.60,481.95L105.10,481.93L105.60,482.00L106.10,481.73L106.60,482.01L107.10,482.09L107.60,482.20L108.10,481.97L108.60,481.71L109.10,481.72L109.60,481.81L110.10,482.08L110.60,482.25L111.10,481.53L111.60,481.01L112.10,481.20L112.60,481.50L113.10,481.90L113.60,481.84L114.10,481.55L114.60,480.86L115.10,479.89L115.60,479.27L116.10,479.81L116.60,480.78L117.10,481.10L117.60,481.01L118.10,481.47L118.60,482.26L119.10,482.67L119.60,483.33L120.10,483.31L120.60,482.65L121.10,482.48L121.60,482.84L122.10,483.16L122.60,483.14L123.10,482.77L123.60,482.69L124.10,483.33L124.60,483.67L125.10,483.30L125.60,483.11L126.10,483.62L126.60,483.56L127.10,483.51L127.60,483.81L128.10,483.96L128.60,483.91L129.10,483.38L129.60,483.03L130.10,482.90L130.60,482.89L131.10,483.01L131.60,482.83L132.10,482.71L132.60,482.96L133.10,483.14L133.60,483.19L134.10,483.05L134.60,483.05L135.10,482.98L135.60,482.90L136.10,483.17L136.60,482.90L137.10,482.55L137.60,482.77L138.10,482.79L138.60,483.15L139.10,483.65L139.60,483.12L140.10,482.63L140.60,482.81L141.10,483.37L141.60,483.83L142.10,483.56L142.60,483.16L143.10,483.52L143.60,483.91L144.10,483.80L144.60,483.46L145.10,483.44L145.60,483.25L146.10,482.83L146.60,483.03L147.10,483.33L147.60,482.74L148.10,482.48L148.60,482.32L149.10,481.66L149.60,481.28L150.10,481.08L150.60,481.56L151.10,482.40L151.60,482.17L152.10,482.36L152.60,483.41L153.10,483.88L153.60,483.23L154.10,483.17L154.60,483.58L155.10,483.68L155.60,483.47L156.10,483.22L156.60,482.98L157.10,482.68L157.60,482.97L158.10,483.15L158.60,483.43L159.10,483.34L159.60,482.95L160.10,482.62L160.60,482.03L161.10,482.37L161.60,482.86L162.10,482.72L162.60,482.49L163.10,482.85L163.60,483.13L164.10,482.90L164.60,482.82L165.10,483.01L165.60,483.23L166.10,483.68L166.60,484.10L167.10,483.99L167.60,483.75L168.10,483.79L168.60,483.62L169.10,483.01L169.60,482.71L170.10,483.44L170.60,484.19L171.10,483.57L171.60,482.92L172.10,482.89L172.60,483.26L173.10,483.05L173.60,483.12L174.10,483.63L174.60,483.80L175.10,483.37L175.60,482.89L176.10,482.94L176.60,483.22L177.10,483.32L177.60,483.39L178.10,483.37L178.60,483.39L179.10,483.45L179.60,483.75L180.10,483.72L180.60,483.77L181.10,483.94L181.60,483.73L182.10,483.53L182.60,483.42L183.10,483.28L183.60,483.36L184.10,483.32L184.60,483.33L185.10,483.33L185.60,483.66L186.10,483.68L186.60,483.82L187.10,483.88L187.60,483.76L188.10,483.72L188.60,483.71L189.10,483.29L189.60,483.06L190.10,482.65L190.60,482.58L191.10,483.17L191.60,483.70L192.10,483.77L192.60,484.08L193.10,484.62L193.60,484.70L194.10,484.78L194.60,484.44L195.10,483.82L195.60,483.48L196.10,483.16L196.60,482.96L197.10,483.14L197.60,483.53L198.10,483.75L198.60,483.59L199.10,483.41L199.60,483.60L200.10,483.87L200.60,483.66L201.10,483.75L201.60,483.98L202.10,483.56L202.60,483.10L203.10,483.33L203.60,483.94L204.10,483.45L204.60,482.65L205.10,483.11L205.60,483.87L206.10,483.97L206.60,483.75L207.10,483.24L207.60,482.50L208.10,482.53L208.60,482.29L209.10,481.93L209.60,481.26L210.10,478.37L210.60,471.80L211.10,460.36L211.60,444.51L212.10,430.48L212.60,428.99L213.10,441.20L213.60,457.33L214.10,469.77L214.60,476.40L215.10,479.48L215.60,480.39L216.10,480.81L216.60,481.28L217.10,481.65L217.60,482.10L218.10,482.36L218.60,482.13L219.10,482.02L219.60,482.43L220.10,482.67L220.60,482.94L221.10,483.47L221.60,483.44L222.10,482.98L222.60,483.00L223.10,482.79L223.60,482.94L224.10,483.41L224.60,483.16L225.10,483.15L225.60,483.47L226.10,484.19L226.60,484.37L227.10,483.79L227.60,484.03L228.10,484.74L228.60,484.76L229.10,484.23L229.60,484.03L230.10,484.16L230.60,483.78L231.10,483.88L231.60,483.63L232.10,483.08L232.60,483.26L233.10,483.44L233.60,483.37L234.10,483.35L234.60,483.34L235.10,484.09L235.60,484.19L236.10,483.94L236.60,483.96L237.10,483.74L237.60,483.62L238.10,484.06L238.60,484.19L239.10,484.29L239.60,484.51L240.10,484.43L240.60,483.99L241.10,484.07L241.60,483.89L242.10,483.90L242.60,483.31L243.10,482.83L243.60,482.96L244.10,483.06L244.60,483.70L245.10,484.20L245.60,484.33L246.10,484.63L246.60,484.97L247.10,484.90L247.60,484.70L248.10,484.69L248.60,484.32L249.10,484.18L249.60,484.15L250.10,484.28L250.60,484.41L251.10,484.39L251.60,484.33L252.10,484.29L252.60,484.40L253.10,484.01L253.60,483.61L254.10,483.47L254.60,483.16L255.10,483.04L255.60,483.32L256.10,484.00L256.60,484.07L257.10,484.08L257.60,483.69L258.10,483.35L258.60,483.09L259.10,483.54L259.60,483.57L260.10,483.04L260.60,483.60L261.10,483.99L261.60,483.43L262.10,483.35L262.60,483.87L263.10,483.77L263.60,483.65L264.10,484.21L264.60,484.74L265.10,484.48L265.60,483.79L266.10,482.96L266.60,482.32L267.10,481.78L267.60,480.56L268.10,477.95L268.60,473.97L269.10,466.80L269.60,454.96L270.10,437.76L270.60,410.31L271.10,363.36L271.60,290.84L272.10,202.03L272.60,128.74L273.10,109.55L273.60,156.47L274.10,242.89L274.60,329.59L275.10,392.64L275.60,430.14L276.10,451.36L276.60,464.08L277.10,472.00L277.60,477.00L278.10,480.33L278.60,482.36L279.10,482.86L279.60,482.67L280.10,482.73L280.60,482.51L281.10,482.51L281.60,482.40L282.10,482.22L282.60,481.72L283.10,482.31L283.60,483.30L284.10,483.71L284.60,484.02L285.10,484.28L285.60,484.09L286.10,484.14L286.60,484.16L287.10,483.34L287.60,482.86L288.10,483.12L288.60,483.29L289.10,483.70L289.60,484.18L290.10,484.25L290.60,484.01L291.10,483.80L291.60,483.72L292.10,484.02L292.60,484.47L293.10,484.44L293.60,484.30L294.10,484.32L294.60,483.89L295.10,483.99L295.60,483.87L296.10,483.22L296.60,483.04L297.10,482.70L297.60,482.67L298.10,483.19L298.60,483.04L299.10,482.71L299.60,482.48L300.10,481.33L300.60,478.30L301.10,473.71L301.60,468.50L302.10,464.57L302.60,464.49L303.10,468.41L303.60,472.98L304.10,477.00L304.60,480.28L305.10,482.11L305.60,482.78L306.10,482.80L306.60,482.48L307.10,481.94L307.60,481.20L308.10,480.67L308.60,480.22L309.10,480.92L309.60,481.87L310.10,482.73L310.60,483.33L311.10,484.15L311.60,483.91L312.10,483.28L312.60,483.09L313.10,482.84L313.60,482.98L314.10,482.85L314.60,483.08L315.10,483.33L315.60,483.11L316.10,483.27L316.60,483.81L317.10,483.72L317.60,483.48L318.10,483.63L318.60,483.76L319.10,483.80L319.60,483.39L320.10,483.24L320.60,483.45L321.10,483.62L321.60,483.78L322.10,483.89L322.60,483.85L323.10,483.77L323.60,484.29L324.10,484.60L324.60,484.78L325.10,483.98L325.60,483.43L326.10,483.31L326.60,483.35L327.10,483.64L327.60,483.69L328.10,483.63L328.60,482.93L329.10,482.04L329.60,481.27L330.10,479.77L330.60,476.15L331.10,473.04L331.60,473.45L332.10,476.82L332.60,480.30L333.10,482.23L333.60,481.70L334.10,477.61L334.60,469.89L335.10,461.03L335.60,457.67L336.10,464.12L336.60,473.14L337.10,479.25L337.60,482.25L338.10,483.34L338.60,483.54L339.10,483.22L339.60,483.66L340.10,483.66L340.60,483.08L341.10,481.98L341.60,480.88L342.10,480.38L342.60,480.32L343.10,480.45L343.60,480.81L344.10,481.06L344.60,481.92L345.10,483.27L345.60,483.50L346.10,483.29L346.60,483.32L347.10,483.36L347.60,483.50L348.10,483.48L348.60,483.22L349.10,483.52L349.60,483.86L350.10,484.01L350.60,483.64L351.10,482.59L351.60,481.88L352.10,480.32L352.60,476.25L353.10,469.90L353.60,463.46L354.10,460.56L354.60,463.93L355.10,470.75L355.60,477.37L356.10,481.57L356.60,482.99L357.10,483.69L357.60,484.43L358.10,484.67L358.60,484.37L359.10,484.29L359.60,483.89L360.10,483.79L360.60,484.10L361.10,484.09L361.60,483.90L362.10,483.96L362.60,483.85L363.10,483.45L363.60,483.07L364.10,483.16L364.60,483.64L365.10,484.02L365.60,483.80L366.10,483.60L366.60,483.58L367.10,483.97L367.60,483.86L368.10,483.66L368.60,483.76L369.10,483.88L369.60,483.89L370.10,484.39L370.60,484.72L371.10,484.23L371.60,483.85L372.10,483.92L372.60,483.66L373.10,482.98L373.60,481.89L374.10,479.85L374.60,475.19L375.10,466.21L375.60,454.75L376.10,446.34L376.60,447.38L377.10,456.62L377.60,467.90L378.10,476.17L378.60,480.06L379.10,481.94L379.60,482.78L380.10,483.24L380.60,483.28L381.10,483.07L381.60,483.30L382.10,483.63L382.60,483.76L383.10,484.13L383.60,484.25L384.10,484.08L384.60,484.05L385.10,484.25L385.60,484.58L386.10,484.48L386.60,484.13L387.10,484.18L387.60,484.35L388.10,484.65L388.60,484.62L389.10,484.11L389.60,483.49L390.10,482.99L390.60,483.23L391.10,483.88L391.60,483.94L392.10,483.49L392.60,483.32L393.10,483.19L393.60,483.16L394.10,483.18L394.60,483.86L395.10,484.37L395.60,484.09L396.10,483.76L396.60,483.99L397.10,483.62L397.60,483.52L398.10,482.91L398.60,482.37L399.10,481.81L399.60,481.61L400.10,481.42L400.60,480.80L401.10,480.87L401.60,481.30L402.10,481.97L402.60,482.92L403.10,482.81L403.60,482.47L404.10,482.61L404.60,482.56L405.10,481.14L405.60,478.04L406.10,473.60L406.60,469.12L407.10,466.84L407.60,469.08L408.10,473.78L408.60,478.54L409.10,481.84L409.60,483.17L410.10,483.83L410.60,484.35L411.10,483.85L411.60,482.98L412.10,482.61L412.60,482.77L413.10,482.85L413.60,482.11L414.10,481.04L414.60,480.16L415.10,478.98L415.60,477.57L416.10,476.52L416.60,477.04L417.10,479.07L417.60,480.98L418.10,482.38L418.60,483.37L419.10,483.90L419.60,484.01L420.10,483.49L420.60,483.49L421.10,483.22L421.60,483.05L422.10,483.17L422.60,482.86L423.10,482.87L423.60,482.66L424.10,481.97L424.60,480.37L425.10,477.49L425.60,473.36L426.10,469.83L426.60,469.31L427.10,472.28L427.60,476.56L428.10,479.48L428.60,481.32L429.10,482.80L429.60,483.47L430.10,483.85L430.60,483.83L431.10,483.72L431.60,483.35L432.10,482.81L432.60,483.16L433.10,484.20L433.60,484.55L434.10,484.23L434.60,484.11L435.10,484.12L435.60,483.98L436.10,484.01L436.60,483.14L437.10,481.37L437.60,479.38L438.10,476.81L438.60,473.87L439.10,473.15L439.60,475.52L440.10,478.62L440.60,480.94L441.10,482.07L441.60,482.96L442.10,483.69L442.60,483.77L443.10,483.58L443.60,483.46L444.10,483.85L444.60,484.08L445.10,483.87L445.60,483.58L446.10,483.71L446.60,483.93L447.10,484.08L447.60,484.36L448.10,484.16L448.60,484.39L449.10,484.65L449.60,484.49L450.10,484.38L450.60,484.57L451.10,484.75L451.60,484.55L452.10,484.84L452.60,484.99L453.10,484.16L453.60,483.95L454.10,484.32L454.60,484.40L455.10,484.29L455.60,484.85L456.10,484.70L456.60,484.20L457.10,483.94L457.60,483.57L458.10,483.69L458.60,483.78L459.10,484.04L459.60,484.08L460.10,483.76L460.60,483.29L461.10,483.32L461.60,483.71L462.10,483.87L462.60,483.94L463.10,484.02L463.60,484.72L464.10,485.16L464.60,484.99L465.10,483.96L465.60,483.44L466.10,483.35L466.60,483.87L467.10,483.89L467.60,483.56L468.10,483.16L468.60,483.55L469.10,483.94L469.60,483.55L470.10,483.61L470.60,483.70L471.10,483.08L471.60,482.37L472.10,480.11L472.60,475.88L473.10,471.65L473.60,469.22L474.10,470.78L474.60,474.66L475.10,478.12L475.60,480.30L476.10,481.84L476.60,482.89L477.10,484.05L477.60,484.91L478.10,484.67L478.60,484.40L479.10,484.30L479.60,483.93L480.10,483.77L480.60,484.45L481.10,484.71L481.60,484.36L482.10,484.51L482.60,485.13L483.10,485.42L483.60,484.99L484.10,484.59L484.60,484.51L485.10,484.48L485.60,484.19L486.10,483.89L486.60,483.91L487.10,484.51L487.60,484.79L488.10,484.85L488.60,485.15L489.10,485.24L489.60,484.65L490.10,484.21L490.60,484.26L491.10,484.30L491.60,484.38L492.10,484.03L492.60,484.06L493.10,484.76L493.60,485.35L494.10,485.13L494.60,484.68L495.10,484.82L495.60,485.15L496.10,485.34L496.60,485.34L497.10,485.26L497.60,484.75L498.10,484.42L498.60,485.12L499.10,485.69L499.60,485.85L500.10,485.41L500.60,484.90L501.10,484.86L501.60,484.96L502.10,485.28L502.60,485.34L503.10,485.08L503.60,484.63L504.10,484.15L504.60,484.18L505.10,484.28L505.60,484.21L506.10,484.62L506.60,484.94L507.10,485.04L507.60,485.00L508.10,485.01L508.60,484.55L509.10,484.16L509.60,484.34L510.10,484.15L510.60,483.64L511.10,483.54L511.60,483.40L512.10,483.37L512.60,483.74L513.10,483.44L513.60,483.07L514.10,482.84L514.60,482.34L515.10,482.37L515.60,482.76L516.10,482.49L516.60,480.28L517.10,475.52L517.60,466.52L518.10,454.27L518.60,443.86L519.10,442.48L519.60,451.72L520.10,464.61L520.60,474.66L521.10,479.95L521.60,482.26L522.10,482.87L522.60,483.18L523.10,483.41L523.60,483.85L524.10,484.44L524.60,484.57L525.10,484.82L525.60,485.37L526.10,485.22L526.60,484.12L527.10,483.74L527.60,484.26L528.10,484.46L528.60,484.24L529.10,484.18L529.60,484.04L530.10,483.62L530.60,483.42L531.10,482.83L531.60,482.21L532.10,481.71L532.60,481.59L533.10,481.57L533.60,480.48L534.10,478.65L534.60,476.75L535.10,474.76L535.60,474.16L536.10,475.72L536.60,477.90L537.10,479.93L537.60,481.69L538.10,482.67L538.60,483.25L539.10,483.42L539.60,483.34L540.10,483.76L540.60,484.44L541.10,484.58L541.60,484.79L542.10,484.96L542.60,485.12L543.10,485.22L543.60,485.54L544.10,485.32L544.60,485.26L545.10,485.08L545.60,484.86L546.10,484.69L546.60,484.78L547.10,484.82L547.60,485.17L548.10,485.16L548.60,484.45L549.10,484.22L549.60,484.29L550.10,484.23L550.60,484.49L551.10,484.53L551.60,484.17L552.10,483.87L552.60,483.61L553.10,483.72L553.60,484.04L554.10,484.07L554.60,484.08L555.10,483.99L555.60,484.36L556.10,484.49L556.60,484.21L557.10,484.36L557.60,484.72L558.10,484.69L558.60,484.65L559.10,484.78L559.60,484.75L560.10,484.71L560.60,485.01L561.10,484.83L561.60,484.63L562.10,484.55L562.60,484.52L563.10,484.60L563.60,484.62L564.10,484.19L564.60,483.94L565.10,483.67L565.60,483.13L566.10,482.83L566.60,482.28L567.10,480.45L567.60,477.14L568.10,473.74L568.60,471.55L569.10,472.01L569.60,474.67L570.10,477.60L570.60,480.42L571.10,481.84L571.60,482.43L572.10,483.54L572.60,484.06L573.10,484.20L573.60,484.06L574.10,484.23L574.60,484.63L575.10,484.64L575.60,484.56L576.10,484.43L576.60,485.10L577.10,485.43L577.60,484.95L578.10,484.30L578.60,483.95L579.10,484.12L579.60,484.40L580.10,484.21L580.60,483.72L581.10,483.65L581.60,484.05L582.10,484.10L582.60,484.21L583.10,483.71L583.60,483.17L584.10,482.58L584.60,481.90L585.10,481.11L585.60,480.88L586.10,481.35L586.60,481.33L587.10,481.87L587.60,482.68L588.10,483.36L588.60,483.38L589.10,483.68L589.60,484.05L590.10,484.13L590.60,484.02L591.10,484.43L591.60,484.83L592.10,484.46L592.60,483.71L593.10,484.02L593.60,484.78L594.10,484.69L594.60,484.79L595.10,485.14L595.60,484.74L596.10,484.50L596.60,484.50L597.10,484.56L597.60,484.55L598.10,484.72L598.60,484.48L599.10,484.07L599.60,484.40L600.10,485.13L600.60,485.13L601.10,485.06L601.60,485.19L602.10,485.26L602.60,485.49L603.10,485.35L603.60,484.94L604.10,484.82L604.60,484.36L605.10,484.24L605.60,484.08L606.10,483.98L606.60,484.43L607.10,484.21L607.60,483.46L608.10,484.33L608.60,485.40L609.10,485.30L609.60,484.47L610.10,483.93L610.60,483.83L611.10,483.93L611.60,484.12L612.10,484.19L612.60,484.50L613.10,484.75L613.60,484.64L614.10,484.44L614.60,484.32L615.10,484.27L615.60,484.25L616.10,484.48L616.60,484.62L617.10,483.98L617.60,484.04L618.10,484.08L618.60,483.69L619.10,482.58L619.60,478.30L620.10,467.03L620.60,447.66L621.10,429.32L621.60,424.87L622.10,435.81L622.60,451.00L623.10,461.82L623.60,467.77L624.10,471.80L624.60,475.40L625.10,479.10L625.60,481.84L626.10,483.32L626.60,484.11L627.10,483.89L627.60,483.63L628.10,483.63L628.60,483.44L629.10,483.42L629.60,483.68L630.10,484.03L630.60,484.45L631.10,484.85L631.60,484.25L632.10,483.87L632.60,483.80L633.10,483.87L633.60,483.77L634.10,483.99L634.60,484.52L635.10,484.66L635.60,484.79L636.10,484.50L636.60,484.23L637.10,484.23L637.60,484.29L638.10,484.74L638.60,484.76L639.10,484.59L639.60,484.39L640.10,484.46L640.60,484.36L641.10,484.39L641.60,484.52L642.10,484.68L642.60,484.65L643.10,484.74L643.60,484.59L644.10,484.21L644.60,483.87L645.10,482.70L645.60,481.18L646.10,480.45L646.60,479.59L647.10,478.99L647.60,479.02L648.10,479.71L648.60,480.63L649.10,481.83L649.60,482.79L650.10,483.56L650.60,483.98L651.10,483.61L651.60,483.75L652.10,483.84L652.60,483.93L653.10,484.22L653.60,484.44L654.10,484.63L654.60,484.52L655.10,484.50L655.60,484.28L656.10,484.14L656.60,484.27L657.10,484.30L657.60,484.66L658.10,484.61L658.60,484.51L659.10,484.43L659.60,484.93L660.10,484.87L660.60,484.64L661.10,484.52L661.60,483.79L662.10,483.03L662.60,482.46L663.10,480.52L663.60,477.67L664.10,476.21L664.60,476.41L665.10,477.65L665.60,480.00L666.10,482.03L666.60,482.91L667.10,483.13L667.60,483.45L668.10,483.79L668.60,484.01L669.10,484.20L669.60,484.29L670.10,483.88L670.60,483.62L671.10,483.92L671.60,484.23L672.10,484.26L672.60,484.18L673.10,484.51L673.60,484.72L674.10,484.46L674.60,484.65L675.10,484.64L675.60,484.47L676.10,484.52L676.60,484.76L677.10,484.48L677.60,484.63L678.10,484.94L678.60,484.91L679.10,484.35L679.60,484.34L680.10,484.99L680.60,485.13L681.10,484.88L681.60,484.60L682.10,483.94L682.60,483.62L683.10,484.17L683.60,484.57L684.10,484.79L684.60,484.50L685.10,484.07L685.60,484.15L686.10,485.02L686.60,485.70L687.10,485.85L687.60,485.86L688.10,485.48L688.60,484.94L689.10,484.38L689.60,484.24L690.10,484.23L690.60,484.37L691.10,484.44L691.60,483.84L692.10,484.26L692.60,485.23L693.10,485.12L693.60,484.32L694.10,483.61L694.60,483.74L695.10,484.19L695.60,483.97L696.10,483.53L696.60,483.41L697.10,483.45L697.60,483.43L698.10,483.28L698.60,482.77L699.10,482.25L699.60,481.79L700.10,482.13L700.60,482.45L701.10,482.19L701.60,481.17L702.10,479.24L702.60,474.60L703.10,466.01L703.60,458.12L704.10,458.52L704.60,465.45L705.10,472.03L705.60,473.72L706.10,472.98L706.60,473.10L707.10,474.44L707.60,475.98L708.10,475.30L708.60,471.41L709.10,465.57L709.60,462.49L710.10,466.38L710.60,473.45L711.10,479.68L711.60,482.94L712.10,483.97L712.60,484.57L713.10,485.20L713.60,485.63L714.10,486.02L714.60,485.38L715.10,484.72L715.60,484.78L716.10,484.73L716.60,484.60L717.10,484.27L717.60,483.87L718.10,483.65L718.60,483.39L719.10,483.58L719.60,484.13L720.10,484.20L720.60,484.36L721.10,484.82L721.60,485.13L722.10,485.36L722.60,485.30L723.10,485.73L723.60,486.27L724.10,486.47L724.60,486.70L725.10,486.49L725.60,485.82L726.10,485.15L726.60,485.42L727.10,485.44L727.60,485.36L728.10,485.23L728.60,485.31L729.10,485.16L729.60,484.53L730.10,484.27L730.60,484.99L731.10,485.00L731.60,484.67L732.10,484.58L732.60,484.99L733.10,485.04L733.60,484.75L734.10,484.85L734.60,485.50L735.10,485.42L735.60,485.26L736.10,485.34L736.60,485.21L737.10,485.24L737.60,485.42L738.10,485.50L738.60,485.72L739.10,485.87L739.60,485.98L740.10,485.88L740.60,485.63L741.10,485.46L741.60,485.31L742.10,484.97L742.60,484.63L743.10,484.54L743.60,484.47L744.10,484.19L744.60,484.03L745.10,483.99L745.60,484.23L746.10,484.05L746.60,483.58L747.10,483.51L747.60,484.38L748.10,485.06L748.60,485.08L749.10,484.96L749.60,485.04L750.10,485.19L750.60,485.29L751.10,484.93L751.60,484.64L752.10,485.21L752.60,485.55L753.10,484.74L753.60,484.13L754.10,484.04L754.60,484.07L755.10,483.98L755.60,484.31L756.10,484.26L756.60,483.71L757.10,483.93L757.60,484.35L758.10,484.63L758.60,484.63L759.10,484.76L759.60,484.62L760.10,484.33L760.60,484.15L761.10,484.24L761.60,484.02L762.10,483.51L762.60,483.17L763.10,483.04L763.60,483.07L764.10,483.56L764.60,483.66L765.10,483.84L765.60,483.96L766.10,484.06L766.60,484.17L767.10,484.26L767.60,484.45L768.10,484.01L768.60,483.40L769.10,483.82L769.60,484.22L770.10,483.97L770.60,484.34L771.10,484.75L771.60,484.22L772.10,484.09L772.60,484.32L773.10,484.18L773.60,483.84L774.10,484.21L774.60,484.58L775.10,484.30L775.60,484.45L776.10,484.89L776.60,484.59L777.10,484.37L777.60,484.74L778.10,485.01L778.60,485.14L779.10,484.82L779.60,484.57L780.10,484.85L780.60,484.98L781.10,485.33L781.60,485.66L782.10,485.18L782.60,484.89L783.10,484.90L783.60,485.03L784.10,484.97L784.60,484.16L785.10,482.87L785.60,481.21L786.10,478.30L786.60,476.49L787.10,477.84L787.60,480.75L788.10,483.24L788.60,484.66L789.10,484.49L789.60,484.78L790.10,484.70L790.60,484.63L791.10,484.80L791.60,485.14L792.10,485.67L792.60,485.69L793.10,485.49L793.60,485.22L794.10,485.26L794.60,485.75L795.10,485.74L795.60,485.56L796.10,485.24L796.60,484.61L797.10,484.45L797.60,484.49L798.10,484.34L798.60,483.90L799.10,483.27L799.60,483.36L800.10,483.67L800.60,484.40L801.10,484.95L801.60,484.98L802.10,485.23L802.60,485.51L803.10,485.55L803.60,485.29L804.10,484.59L804.60,484.19L805.10,483.93L805.60,483.70L806.10,482.67L806.60,480.26L807.10,478.19L807.60,478.51L808.10,480.65L808.60,482.46L809.10,483.86L809.60,484.76L810.10,485.34L810.60,485.44L811.10,485.43L811.60,485.14L812.10,485.01L812.60,485.45L813.10,485.51L813.60,485.49L814.10,485.54L814.60,485.70L815.10,485.55L815.60,485.65L816.10,485.58L816.60,485.16L817.10,485.20L817.60,485.24L818.10,485.16L818.60,484.66L819.10,484.41L819.60,484.05L820.10,484.22L820.60,484.66L821.10,484.88L821.60,484.89L822.10,484.92L822.60,484.87L823.10,484.80L823.60,484.53L824.10,484.64L824.60,485.31L825.10,485.57L825.60,485.11L826.10,484.88L826.60,484.83" fill="none" stroke="#35aa2c" stroke-width="2.7" stroke-linejoin="round" stroke-linecap="round"/>
</g>
<rect x="41.1" y="16.7" width="785.8" height="470.3" fill="none" stroke="#4a4a4a" stroke-width="1.6"/>
<line x1="40.3" y1="487.0" x2="827.7" y2="487.0" stroke="#1a1a1a" stroke-width="1.8"/>
<line x1="41.10" y1="482.0" x2="41.10" y2="494.2" stroke="#1a1a1a" stroke-width="1.4"/>
<line x1="51.58" y1="482.0" x2="51.58" y2="492.0" stroke="#1a1a1a" stroke-width="1.4"/>
<line x1="62.05" y1="482.0" x2="62.05" y2="492.0" stroke="#1a1a1a" stroke-width="1.4"/>
<line x1="72.53" y1="482.0" x2="72.53" y2="492.0" stroke="#1a1a1a" stroke-width="1.4"/>
<line x1="83.01" y1="482.0" x2="83.01" y2="492.0" stroke="#1a1a1a" stroke-width="1.4"/>
<line x1="93.49" y1="482.0" x2="93.49" y2="494.2" stroke="#1a1a1a" stroke-width="1.4"/>
<line x1="103.96" y1="482.0" x2="103.96" y2="492.0" stroke="#1a1a1a" stroke-width="1.4"/>
<line x1="114.44" y1="482.0" x2="114.44" y2="492.0" stroke="#1a1a1a" stroke-width="1.4"/>
<line x1="124.92" y1="482.0" x2="124.92" y2="492.0" stroke="#1a1a1a" stroke-width="1.4"/>
<line x1="135.40" y1="482.0" x2="135.40" y2="492.0" stroke="#1a1a1a" stroke-width="1.4"/>
<line x1="145.87" y1="482.0" x2="145.87" y2="494.2" stroke="#1a1a1a" stroke-width="1.4"/>
<line x1="156.35" y1="482.0" x2="156.35" y2="492.0" stroke="#1a1a1a" stroke-width="1.4"/>
<line x1="166.83" y1="482.0" x2="166.83" y2="492.0" stroke="#1a1a1a" stroke-width="1.4"/>
<line x1="177.31" y1="482.0" x2="177.31" y2="492.0" stroke="#1a1a1a" stroke-width="1.4"/>
<line x1="187.78" y1="482.0" x2="187.78" y2="492.0" stroke="#1a1a1a" stroke-width="1.4"/>
<line x1="198.26" y1="482.0" x2="198.26" y2="494.2" stroke="#1a1a1a" stroke-width="1.4"/>
<line x1="208.74" y1="482.0" x2="208.74" y2="492.0" stroke="#1a1a1a" stroke-width="1.4"/>
<line x1="219.21" y1="482.0" x2="219.21" y2="492.0" stroke="#1a1a1a" stroke-width="1.4"/>
<line x1="229.69" y1="482.0" x2="229.69" y2="492.0" stroke="#1a1a1a" stroke-width="1.4"/>
<line x1="240.17" y1="482.0" x2="240.17" y2="492.0" stroke="#1a1a1a" stroke-width="1.4"/>
<line x1="250.65" y1="482.0" x2="250.65" y2="494.2" stroke="#1a1a1a" stroke-width="1.4"/>
<line x1="261.12" y1="482.0" x2="261.12" y2="492.0" stroke="#1a1a1a" stroke-width="1.4"/>
<line x1="271.60" y1="482.0" x2="271.60" y2="492.0" stroke="#1a1a1a" stroke-width="1.4"/>
<line x1="282.08" y1="482.0" x2="282.08" y2="492.0" stroke="#1a1a1a" stroke-width="1.4"/>
<line x1="292.56" y1="482.0" x2="292.56" y2="492.0" stroke="#1a1a1a" stroke-width="1.4"/>
<line x1="303.03" y1="482.0" x2="303.03" y2="494.2" stroke="#1a1a1a" stroke-width="1.4"/>
<line x1="313.51" y1="482.0" x2="313.51" y2="492.0" stroke="#1a1a1a" stroke-width="1.4"/>
<line x1="323.99" y1="482.0" x2="323.99" y2="492.0" stroke="#1a1a1a" stroke-width="1.4"/>
<line x1="334.47" y1="482.0" x2="334.47" y2="492.0" stroke="#1a1a1a" stroke-width="1.4"/>
<line x1="344.94" y1="482.0" x2="344.94" y2="492.0" stroke="#1a1a1a" stroke-width="1.4"/>
<line x1="355.42" y1="482.0" x2="355.42" y2="494.2" stroke="#1a1a1a" stroke-width="1.4"/>
<line x1="365.90" y1="482.0" x2="365.90" y2="492.0" stroke="#1a1a1a" stroke-width="1.4"/>
<line x1="376.37" y1="482.0" x2="376.37" y2="492.0" stroke="#1a1a1a" stroke-width="1.4"/>
<line x1="386.85" y1="482.0" x2="386.85" y2="492.0" stroke="#1a1a1a" stroke-width="1.4"/>
<line x1="397.33" y1="482.0" x2="397.33" y2="492.0" stroke="#1a1a1a" stroke-width="1.4"/>
<line x1="407.81" y1="482.0" x2="407.81" y2="494.2" stroke="#1a1a1a" stroke-width="1.4"/>
<line x1="418.28" y1="482.0" x2="418.28" y2="492.0" stroke="#1a1a1a" stroke-width="1.4"/>
<line x1="428.76" y1="482.0" x2="428.76" y2="492.0" stroke="#1a1a1a" stroke-width="1.4"/>
<line x1="439.24" y1="482.0" x2="439.24" y2="492.0" stroke="#1a1a1a" stroke-width="1.4"/>
<line x1="449.72" y1="482.0" x2="449.72" y2="492.0" stroke="#1a1a1a" stroke-width="1.4"/>
<line x1="460.19" y1="482.0" x2="460.19" y2="494.2" stroke="#1a1a1a" stroke-width="1.4"/>
<line x1="470.67" y1="482.0" x2="470.67" y2="492.0" stroke="#1a1a1a" stroke-width="1.4"/>
<line x1="481.15" y1="482.0" x2="481.15" y2="492.0" stroke="#1a1a1a" stroke-width="1.4"/>
<line x1="491.63" y1="482.0" x2="491.63" y2="492.0" stroke="#1a1a1a" stroke-width="1.4"/>
<line x1="502.10" y1="482.0" x2="502.10" y2="492.0" stroke="#1a1a1a" stroke-width="1.4"/>
<line x1="512.58" y1="482.0" x2="512.58" y2="494.2" stroke="#1a1a1a" stroke-width="1.4"/>
<line x1="523.06" y1="482.0" x2="523.06" y2="492.0" stroke="#1a1a1a" stroke-width="1.4"/>
<line x1="533.53" y1="482.0" x2="533.53" y2="492.0" stroke="#1a1a1a" stroke-width="1.4"/>
<line x1="544.01" y1="482.0" x2="544.01" y2="492.0" stroke="#1a1a1a" stroke-width="1.4"/>
<line x1="554.49" y1="482.0" x2="554.49" y2="492.0" stroke="#1a1a1a" stroke-width="1.4"/>
<line x1="564.97" y1="482.0" x2="564.97" y2="494.2" stroke="#1a1a1a" stroke-width="1.4"/>
<line x1="575.44" y1="482.0" x2="575.44" y2="492.0" stroke="#1a1a1a" stroke-width="1.4"/>
<line x1="585.92" y1="482.0" x2="585.92" y2="492.0" stroke="#1a1a1a" stroke-width="1.4"/>
<line x1="596.40" y1="482.0" x2="596.40" y2="492.0" stroke="#1a1a1a" stroke-width="1.4"/>
<line x1="606.88" y1="482.0" x2="606.88" y2="492.0" stroke="#1a1a1a" stroke-width="1.4"/>
<line x1="617.35" y1="482.0" x2="617.35" y2="494.2" stroke="#1a1a1a" stroke-width="1.4"/>
<line x1="627.83" y1="482.0" x2="627.83" y2="492.0" stroke="#1a1a1a" stroke-width="1.4"/>
<line x1="638.31" y1="482.0" x2="638.31" y2="492.0" stroke="#1a1a1a" stroke-width="1.4"/>
<line x1="648.79" y1="482.0" x2="648.79" y2="492.0" stroke="#1a1a1a" stroke-width="1.4"/>
<line x1="659.26" y1="482.0" x2="659.26" y2="492.0" stroke="#1a1a1a" stroke-width="1.4"/>
<line x1="669.74" y1="482.0" x2="669.74" y2="494.2" stroke="#1a1a1a" stroke-width="1.4"/>
<line x1="680.22" y1="482.0" x2="680.22" y2="492.0" stroke="#1a1a1a" stroke-width="1.4"/>
<line x1="690.69" y1="482.0" x2="690.69" y2="492.0" stroke="#1a1a1a" stroke-width="1.4"/>
<line x1="701.17" y1="482.0" x2="701.17" y2="492.0" stroke="#1a1a1a" stroke-width="1.4"/>
<line x1="711.65" y1="482.0" x2="711.65" y2="492.0" stroke="#1a1a1a" stroke-width="1.4"/>
<line x1="722.13" y1="482.0" x2="722.13" y2="494.2" stroke="#1a1a1a" stroke-width="1.4"/>
<line x1="732.60" y1="482.0" x2="732.60" y2="492.0" stroke="#1a1a1a" stroke-width="1.4"/>
<line x1="743.08" y1="482.0" x2="743.08" y2="492.0" stroke="#1a1a1a" stroke-width="1.4"/>
<line x1="753.56" y1="482.0" x2="753.56" y2="492.0" stroke="#1a1a1a" stroke-width="1.4"/>
<line x1="764.04" y1="482.0" x2="764.04" y2="492.0" stroke="#1a1a1a" stroke-width="1.4"/>
<line x1="774.51" y1="482.0" x2="774.51" y2="494.2" stroke="#1a1a1a" stroke-width="1.4"/>
<line x1="784.99" y1="482.0" x2="784.99" y2="492.0" stroke="#1a1a1a" stroke-width="1.4"/>
<line x1="795.47" y1="482.0" x2="795.47" y2="492.0" stroke="#1a1a1a" stroke-width="1.4"/>
<line x1="805.95" y1="482.0" x2="805.95" y2="492.0" stroke="#1a1a1a" stroke-width="1.4"/>
<line x1="816.42" y1="482.0" x2="816.42" y2="492.0" stroke="#1a1a1a" stroke-width="1.4"/>
<line x1="826.90" y1="482.0" x2="826.90" y2="494.2" stroke="#1a1a1a" stroke-width="1.4"/>
<text transform="translate(41.10,521.00)" font-family="Liberation Serif, serif" font-size="21" text-anchor="middle" fill="#000" stroke="#000" stroke-width="0.4" xml:space="preserve">5</text>
<text transform="translate(93.49,521.00)" font-family="Liberation Serif, serif" font-size="21" text-anchor="middle" fill="#000" stroke="#000" stroke-width="0.4" xml:space="preserve">10</text>
<text transform="translate(145.87,521.00)" font-family="Liberation Serif, serif" font-size="21" text-anchor="middle" fill="#000" stroke="#000" stroke-width="0.4" xml:space="preserve">15</text>
<text transform="translate(198.26,521.00)" font-family="Liberation Serif, serif" font-size="21" text-anchor="middle" fill="#000" stroke="#000" stroke-width="0.4" xml:space="preserve">20</text>
<text transform="translate(250.65,521.00)" font-family="Liberation Serif, serif" font-size="21" text-anchor="middle" fill="#000" stroke="#000" stroke-width="0.4" xml:space="preserve">25</text>
<text transform="translate(303.03,521.00)" font-family="Liberation Serif, serif" font-size="21" text-anchor="middle" fill="#000" stroke="#000" stroke-width="0.4" xml:space="preserve">30</text>
<text transform="translate(355.42,521.00)" font-family="Liberation Serif, serif" font-size="21" text-anchor="middle" fill="#000" stroke="#000" stroke-width="0.4" xml:space="preserve">35</text>
<text transform="translate(407.81,521.00)" font-family="Liberation Serif, serif" font-size="21" text-anchor="middle" fill="#000" stroke="#000" stroke-width="0.4" xml:space="preserve">40</text>
<text transform="translate(460.19,521.00)" font-family="Liberation Serif, serif" font-size="21" text-anchor="middle" fill="#000" stroke="#000" stroke-width="0.4" xml:space="preserve">45</text>
<text transform="translate(512.58,521.00)" font-family="Liberation Serif, serif" font-size="21" text-anchor="middle" fill="#000" stroke="#000" stroke-width="0.4" xml:space="preserve">50</text>
<text transform="translate(564.97,521.00)" font-family="Liberation Serif, serif" font-size="21" text-anchor="middle" fill="#000" stroke="#000" stroke-width="0.4" xml:space="preserve">55</text>
<text transform="translate(617.35,521.00)" font-family="Liberation Serif, serif" font-size="21" text-anchor="middle" fill="#000" stroke="#000" stroke-width="0.4" xml:space="preserve">60</text>
<text transform="translate(669.74,521.00)" font-family="Liberation Serif, serif" font-size="21" text-anchor="middle" fill="#000" stroke="#000" stroke-width="0.4" xml:space="preserve">65</text>
<text transform="translate(722.13,521.00)" font-family="Liberation Serif, serif" font-size="21" text-anchor="middle" fill="#000" stroke="#000" stroke-width="0.4" xml:space="preserve">70</text>
<text transform="translate(774.51,521.00)" font-family="Liberation Serif, serif" font-size="21" text-anchor="middle" fill="#000" stroke="#000" stroke-width="0.4" xml:space="preserve">75</text>
<text transform="translate(826.90,521.00)" font-family="Liberation Serif, serif" font-size="21" text-anchor="middle" fill="#000" stroke="#000" stroke-width="0.4" xml:space="preserve">80</text>
<text transform="translate(385.00,554.40) scale(1.0520,1.0000)" font-family="Liberation Serif, serif" font-size="21" fill="#000" stroke="#000" stroke-width="0.4" xml:space="preserve">2&#920;, degree</text>
<text transform="translate(31.00,264.40) rotate(-90) scale(1.0460,1.0000)" font-family="Liberation Serif, serif" font-size="21" text-anchor="middle" fill="#000" stroke="#000" stroke-width="0.4" xml:space="preserve">Intensity,  a.u.</text>
<text transform="translate(689.00,47.40) scale(1.0670,1.0000)" font-family="Liberation Serif, serif" font-size="21" fill="#000" stroke="#000" stroke-width="0.4" xml:space="preserve">Q &#8211; quartz</text>
<text transform="translate(689.90,74.50) scale(1.0310,1.0000)" font-family="Liberation Serif, serif" font-size="21" fill="#000" stroke="#000" stroke-width="0.4" xml:space="preserve">A - alite</text>
<text transform="translate(59.00,317.10) scale(1.0670,1.0000)" font-family="Liberation Serif, serif" font-size="21" fill="#000" stroke="#000" stroke-width="0.4" xml:space="preserve">OLD</text>
<text transform="translate(60.30,344.00) scale(1.0320,1.0000)" font-family="Liberation Serif, serif" font-size="21" fill="#000" stroke="#000" stroke-width="0.4" xml:space="preserve">disintegrated</text>
<text transform="translate(58.90,386.80) scale(1.0670,1.0000)" font-family="Liberation Serif, serif" font-size="21" fill="#000" stroke="#000" stroke-width="0.4" xml:space="preserve">OLD</text>
<text transform="translate(57.80,457.50) scale(1.0770,1.0000)" font-family="Liberation Serif, serif" font-size="21" fill="#000" stroke="#000" stroke-width="0.4" xml:space="preserve">NEW</text>
<text transform="translate(288.90,38.80) scale(1.0500,1.0000)" font-family="Liberation Serif, serif" font-size="22" text-anchor="middle" fill="#000" stroke="#000" stroke-width="0.4" xml:space="preserve">Q</text>
<text transform="translate(213.30,203.30) scale(1.0200,1.0000)" font-family="Liberation Serif, serif" font-size="22" text-anchor="middle" fill="#000" stroke="#000" stroke-width="0.4" xml:space="preserve">Q</text>
<text transform="translate(378.80,203.30) scale(1.0200,1.0000)" font-family="Liberation Serif, serif" font-size="22" text-anchor="middle" fill="#000" stroke="#000" stroke-width="0.4" xml:space="preserve">Q</text>
<text transform="translate(411.30,203.00) scale(1.0200,1.0000)" font-family="Liberation Serif, serif" font-size="22" text-anchor="middle" fill="#000" stroke="#000" stroke-width="0.4" xml:space="preserve">Q</text>
<text transform="translate(438.70,203.30) scale(1.0200,1.0000)" font-family="Liberation Serif, serif" font-size="22" text-anchor="middle" fill="#000" stroke="#000" stroke-width="0.4" xml:space="preserve">Q</text>
<text transform="translate(570.00,204.60) scale(1.0200,1.0000)" font-family="Liberation Serif, serif" font-size="22" text-anchor="middle" fill="#000" stroke="#000" stroke-width="0.4" xml:space="preserve">Q</text>
<text transform="translate(710.40,204.40) scale(1.0200,1.0000)" font-family="Liberation Serif, serif" font-size="22" text-anchor="middle" fill="#000" stroke="#000" stroke-width="0.4" xml:space="preserve">Q</text>
<text transform="translate(788.00,204.20) scale(1.0200,1.0000)" font-family="Liberation Serif, serif" font-size="22" text-anchor="middle" fill="#000" stroke="#000" stroke-width="0.4" xml:space="preserve">Q</text>
<text transform="translate(304.90,237.60)" font-family="Liberation Serif, serif" font-size="21" text-anchor="middle" fill="#000" stroke="#000" stroke-width="0.4" xml:space="preserve">A</text>
<text transform="translate(333.75,237.60)" font-family="Liberation Serif, serif" font-size="21" text-anchor="middle" fill="#000" stroke="#000" stroke-width="0.4" xml:space="preserve">A</text>
<text transform="translate(355.05,237.60)" font-family="Liberation Serif, serif" font-size="21" text-anchor="middle" fill="#000" stroke="#000" stroke-width="0.4" xml:space="preserve">A</text>
<text transform="translate(425.35,237.80)" font-family="Liberation Serif, serif" font-size="21" text-anchor="middle" fill="#000" stroke="#000" stroke-width="0.4" xml:space="preserve">A</text>
<text transform="translate(474.05,238.60)" font-family="Liberation Serif, serif" font-size="21" text-anchor="middle" fill="#000" stroke="#000" stroke-width="0.4" xml:space="preserve">A</text>
<text transform="translate(518.80,237.20)" font-family="Liberation Serif, serif" font-size="21" text-anchor="middle" fill="#000" stroke="#000" stroke-width="0.4" xml:space="preserve">A</text>
<text transform="translate(537.70,237.20)" font-family="Liberation Serif, serif" font-size="21" text-anchor="middle" fill="#000" stroke="#000" stroke-width="0.4" xml:space="preserve">A</text>
<text transform="translate(620.55,237.20)" font-family="Liberation Serif, serif" font-size="21" text-anchor="middle" fill="#000" stroke="#000" stroke-width="0.4" xml:space="preserve">A</text>
<text transform="translate(706.00,237.20)" font-family="Liberation Serif, serif" font-size="21" text-anchor="middle" fill="#000" stroke="#000" stroke-width="0.4" xml:space="preserve">A</text>
<text transform="translate(807.75,237.80)" font-family="Liberation Serif, serif" font-size="21" text-anchor="middle" fill="#000" stroke="#000" stroke-width="0.4" xml:space="preserve">A</text>
</svg>
</body></html>
